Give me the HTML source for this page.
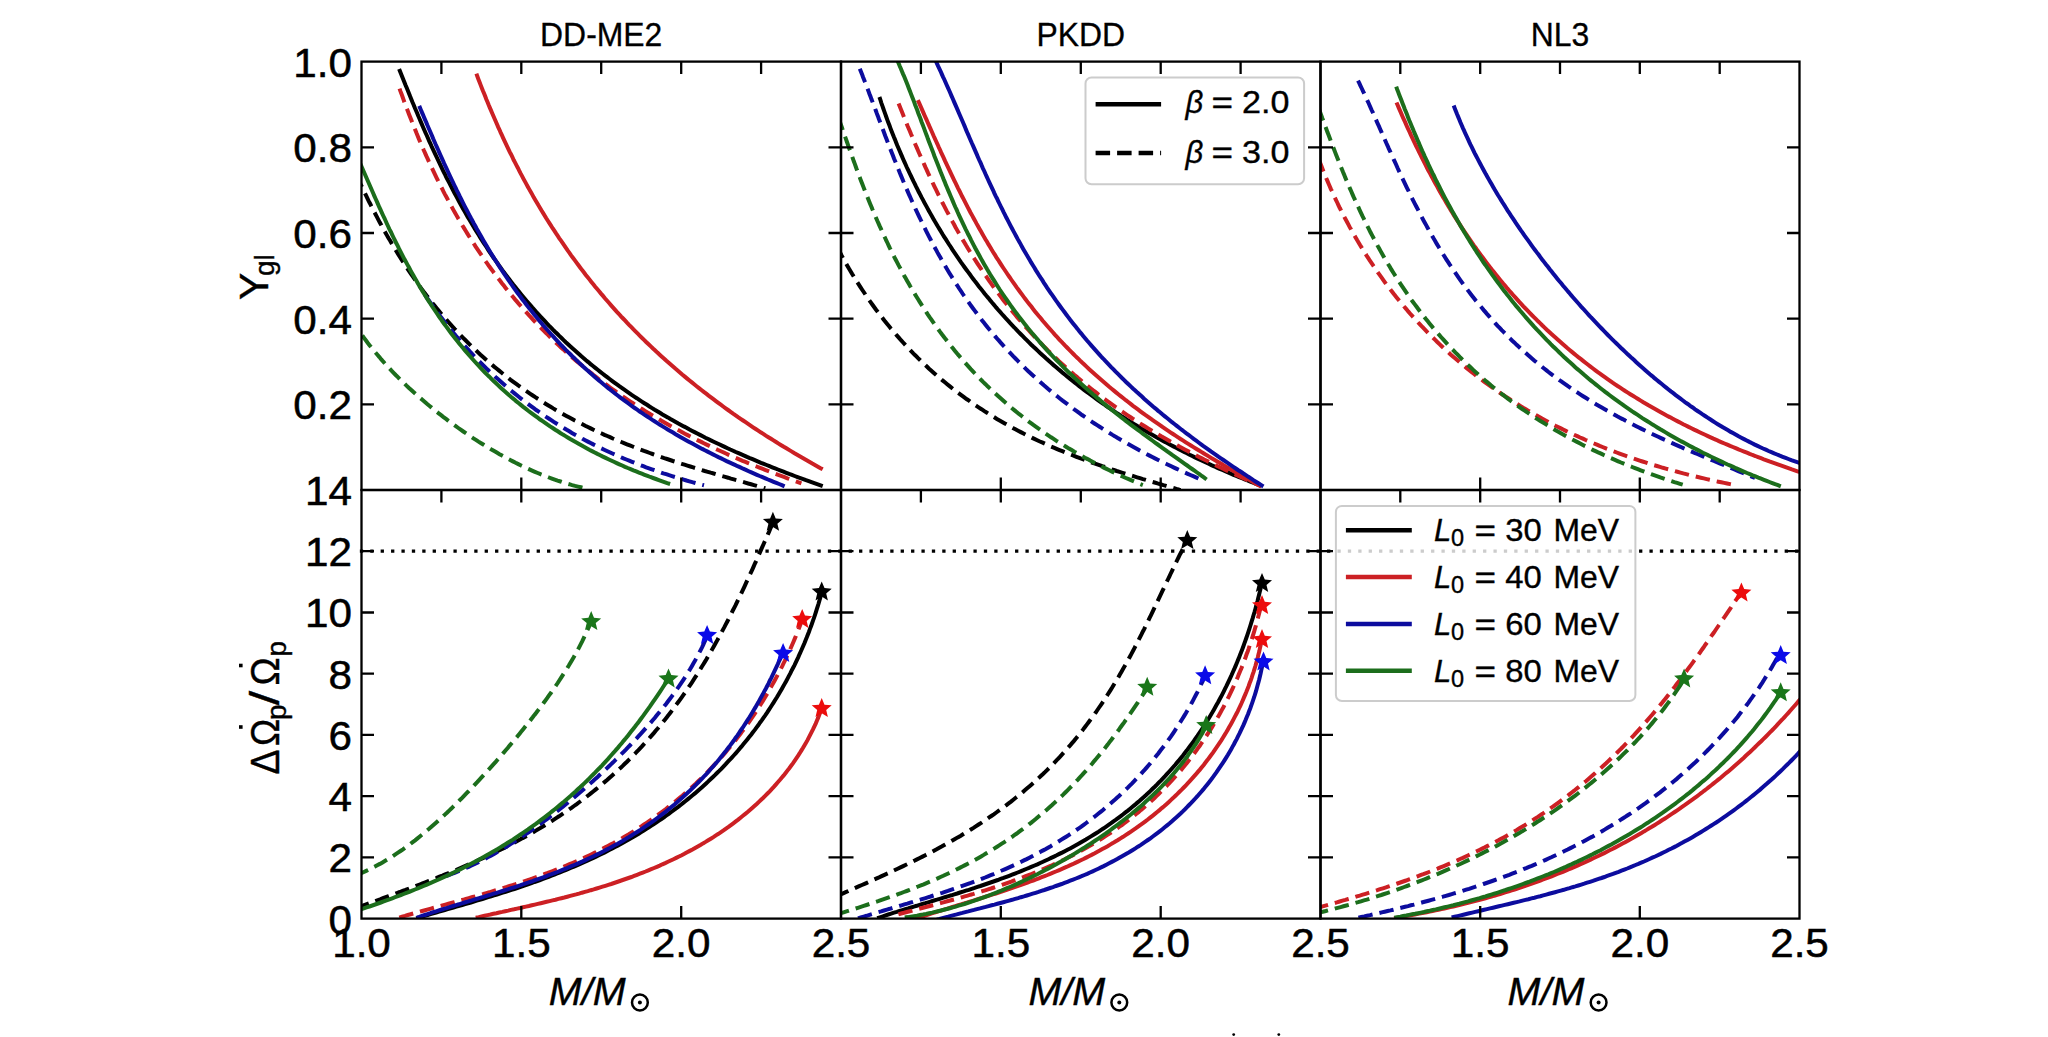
<!DOCTYPE html><html><head><meta charset="utf-8"><style>html,body{margin:0;padding:0;background:#fff;overflow:hidden}svg{display:block}text{font-family:"Liberation Sans",sans-serif;fill:#000}</style></head><body>
<svg width="2048" height="1037" viewBox="0 0 2048 1037">
<rect x="0" y="0" width="2048" height="1037" fill="#fff"/>
<clipPath id="ct0"><rect x="361.5" y="61.6" width="479.5" height="428.4"/></clipPath>
<clipPath id="cb0"><rect x="361.5" y="490.0" width="479.5" height="428.6"/></clipPath>
<clipPath id="ct1"><rect x="841.0" y="61.6" width="479.5" height="428.4"/></clipPath>
<clipPath id="cb1"><rect x="841.0" y="490.0" width="479.5" height="428.6"/></clipPath>
<clipPath id="ct2"><rect x="1320.5" y="61.6" width="479.0" height="428.4"/></clipPath>
<clipPath id="cb2"><rect x="1320.5" y="490.0" width="479.0" height="428.6"/></clipPath>
<path d="M399.1,68.9 L400.2,71.7 L401.3,74.4 L402.4,77.2 L403.5,79.9 L404.6,82.7 L405.7,85.5 L406.9,88.3 L408.0,91.0 L409.1,93.8 L410.2,96.6 L411.4,99.4 L412.5,102.2 L413.7,104.9 L414.8,107.7 L416.0,110.5 L417.2,113.3 L418.3,116.1 L419.5,118.8 L420.7,121.6 L421.9,124.4 L423.1,127.2 L424.3,130.0 L425.5,132.7 L426.8,135.5 L428.0,138.3 L429.2,141.1 L430.5,143.8 L431.7,146.6 L433.0,149.3 L434.3,152.1 L435.6,154.9 L436.9,157.6 L438.2,160.4 L439.5,163.1 L440.8,165.8 L442.1,168.6 L443.4,171.3 L444.8,174.0 L446.1,176.8 L447.5,179.5 L448.9,182.2 L450.3,184.9 L451.7,187.6 L453.1,190.3 L454.5,193.0 L455.9,195.6 L457.4,198.3 L458.8,201.0 L460.3,203.7 L461.7,206.3 L463.2,209.0 L464.7,211.6 L466.2,214.2 L467.7,216.9 L469.3,219.5 L470.8,222.1 L472.4,224.7 L473.9,227.3 L475.5,229.9 L477.1,232.5 L478.7,235.0 L480.3,237.6 L481.9,240.1 L483.5,242.7 L485.2,245.2 L486.9,247.7 L488.5,250.3 L490.2,252.8 L491.9,255.3 L493.6,257.8 L495.3,260.2 L497.1,262.7 L498.8,265.2 L500.6,267.6 L502.3,270.1 L504.1,272.5 L505.9,274.9 L507.7,277.3 L509.6,279.7 L511.4,282.1 L513.2,284.5 L515.1,286.8 L517.0,289.2 L518.9,291.5 L520.8,293.9 L522.7,296.2 L524.6,298.5 L526.5,300.8 L528.5,303.1 L530.5,305.3 L532.4,307.6 L534.4,309.9 L536.4,312.1 L538.5,314.3 L540.5,316.5 L542.5,318.7 L544.6,320.9 L546.6,323.1 L548.7,325.3 L550.8,327.4 L552.9,329.6 L555.0,331.7 L557.2,333.8 L559.3,335.9 L561.5,338.0 L563.6,340.1 L565.8,342.2 L568.0,344.2 L570.2,346.3 L572.4,348.3 L574.7,350.3 L576.9,352.3 L579.2,354.3 L581.4,356.3 L583.7,358.2 L586.0,360.2 L588.3,362.1 L590.6,364.1 L593.0,366.0 L595.3,367.9 L597.7,369.8 L600.0,371.6 L602.4,373.5 L604.8,375.4 L607.2,377.2 L609.6,379.0 L612.0,380.8 L614.4,382.6 L616.9,384.4 L619.3,386.2 L621.8,387.9 L624.3,389.7 L626.7,391.4 L629.2,393.1 L631.7,394.9 L634.3,396.6 L636.8,398.2 L639.3,399.9 L641.9,401.6 L644.4,403.2 L647.0,404.8 L649.5,406.5 L652.1,408.1 L654.7,409.7 L657.3,411.2 L659.9,412.8 L662.5,414.4 L665.2,415.9 L667.8,417.4 L670.4,419.0 L673.1,420.5 L675.7,422.0 L678.4,423.5 L681.1,424.9 L683.8,426.4 L686.5,427.8 L689.1,429.3 L691.8,430.7 L694.6,432.1 L697.3,433.5 L700.0,434.9 L702.7,436.3 L705.4,437.7 L708.2,439.0 L710.9,440.4 L713.7,441.7 L716.4,443.0 L719.2,444.3 L722.0,445.6 L724.7,446.9 L727.5,448.2 L730.3,449.5 L733.1,450.7 L735.8,452.0 L738.6,453.2 L741.4,454.4 L744.2,455.6 L747.0,456.9 L749.8,458.1 L752.6,459.2 L755.4,460.4 L758.2,461.6 L761.0,462.8 L763.8,463.9 L766.6,465.0 L769.5,466.2 L772.3,467.3 L775.1,468.4 L777.9,469.5 L780.7,470.6 L783.5,471.7 L786.3,472.8 L789.1,473.9 L791.9,474.9 L794.7,476.0 L797.6,477.1 L800.4,478.1 L803.2,479.1 L806.0,480.2 L808.8,481.2 L811.5,482.2 L814.3,483.2 L817.1,484.2 L819.9,485.2 L822.7,486.2" fill="none" stroke="#000000" stroke-width="4.0" clip-path="url(#ct0)"/>
<path d="M879.4,97.0 L880.4,99.9 L881.3,102.8 L882.3,105.6 L883.3,108.5 L884.3,111.3 L885.3,114.2 L886.3,117.0 L887.3,119.8 L888.4,122.7 L889.5,125.5 L890.5,128.3 L891.6,131.2 L892.7,134.0 L893.8,136.8 L895.0,139.6 L896.1,142.4 L897.2,145.2 L898.4,148.0 L899.6,150.8 L900.8,153.6 L902.0,156.4 L903.2,159.2 L904.4,161.9 L905.7,164.7 L906.9,167.5 L908.2,170.2 L909.5,173.0 L910.8,175.7 L912.1,178.4 L913.4,181.2 L914.8,183.9 L916.1,186.6 L917.5,189.3 L918.8,192.0 L920.2,194.7 L921.6,197.4 L923.1,200.1 L924.5,202.8 L925.9,205.4 L927.4,208.1 L928.8,210.7 L930.3,213.4 L931.8,216.0 L933.3,218.7 L934.8,221.3 L936.4,223.9 L937.9,226.5 L939.5,229.1 L941.1,231.7 L942.6,234.3 L944.2,236.8 L945.9,239.4 L947.5,242.0 L949.1,244.5 L950.8,247.0 L952.4,249.6 L954.1,252.1 L955.8,254.6 L957.5,257.1 L959.2,259.6 L960.9,262.1 L962.7,264.6 L964.4,267.0 L966.2,269.5 L968.0,271.9 L969.8,274.3 L971.6,276.8 L973.4,279.2 L975.2,281.6 L977.1,284.0 L978.9,286.4 L980.8,288.7 L982.7,291.1 L984.5,293.5 L986.4,295.8 L988.4,298.1 L990.3,300.5 L992.2,302.8 L994.2,305.1 L996.1,307.4 L998.1,309.7 L1000.1,311.9 L1002.1,314.2 L1004.1,316.4 L1006.1,318.7 L1008.2,320.9 L1010.2,323.1 L1012.3,325.3 L1014.4,327.5 L1016.4,329.7 L1018.5,331.9 L1020.6,334.0 L1022.8,336.2 L1024.9,338.3 L1027.0,340.4 L1029.2,342.6 L1031.3,344.7 L1033.5,346.8 L1035.7,348.8 L1037.9,350.9 L1040.1,353.0 L1042.3,355.0 L1044.6,357.0 L1046.8,359.1 L1049.0,361.1 L1051.3,363.1 L1053.6,365.1 L1055.9,367.0 L1058.2,369.0 L1060.5,370.9 L1062.8,372.9 L1065.1,374.8 L1067.4,376.7 L1069.8,378.6 L1072.1,380.5 L1074.5,382.4 L1076.9,384.3 L1079.2,386.1 L1081.6,388.0 L1084.0,389.8 L1086.4,391.6 L1088.9,393.4 L1091.3,395.2 L1093.7,397.0 L1096.2,398.8 L1098.6,400.6 L1101.1,402.3 L1103.6,404.0 L1106.1,405.8 L1108.6,407.5 L1111.1,409.2 L1113.6,410.9 L1116.1,412.6 L1118.6,414.2 L1121.1,415.9 L1123.7,417.5 L1126.2,419.1 L1128.8,420.8 L1131.4,422.4 L1133.9,424.0 L1136.5,425.5 L1139.1,427.1 L1141.7,428.7 L1144.3,430.2 L1146.9,431.7 L1149.5,433.3 L1152.2,434.8 L1154.8,436.3 L1157.4,437.8 L1160.1,439.2 L1162.7,440.7 L1165.4,442.1 L1168.0,443.6 L1170.7,445.0 L1173.4,446.4 L1176.1,447.8 L1178.8,449.2 L1181.4,450.6 L1184.1,452.0 L1186.9,453.3 L1189.6,454.7 L1192.3,456.0 L1195.0,457.4 L1197.7,458.7 L1200.5,460.0 L1203.2,461.3 L1205.9,462.5 L1208.7,463.8 L1211.4,465.1 L1214.2,466.3 L1216.9,467.6 L1219.7,468.8 L1222.5,470.0 L1225.2,471.2 L1228.0,472.4 L1230.8,473.6 L1233.5,474.8 L1236.3,475.9 L1239.1,477.1 L1241.9,478.2 L1244.7,479.3 L1247.5,480.5 L1250.3,481.6 L1253.1,482.7 L1255.9,483.8 L1258.7,484.8 L1261.5,485.9" fill="none" stroke="#000000" stroke-width="4.0" clip-path="url(#ct1)"/>
<path d="M416.2,918.3 L419.1,917.5 L421.9,916.6 L424.8,915.8 L427.6,915.0 L430.5,914.1 L433.3,913.3 L436.2,912.5 L439.1,911.7 L442.0,910.8 L444.8,910.0 L447.7,909.2 L450.6,908.3 L453.5,907.5 L456.4,906.7 L459.3,905.8 L462.2,905.0 L465.1,904.2 L468.0,903.3 L470.9,902.5 L473.8,901.6 L476.7,900.7 L479.5,899.9 L482.4,899.0 L485.3,898.1 L488.2,897.2 L491.1,896.3 L494.0,895.4 L496.9,894.5 L499.8,893.6 L502.7,892.7 L505.6,891.8 L508.5,890.9 L511.4,889.9 L514.3,889.0 L517.2,888.0 L520.0,887.0 L522.9,886.1 L525.8,885.1 L528.7,884.1 L531.5,883.1 L534.4,882.0 L537.3,881.0 L540.1,880.0 L543.0,878.9 L545.8,877.9 L548.7,876.8 L551.5,875.7 L554.3,874.6 L557.2,873.5 L560.0,872.4 L562.8,871.2 L565.6,870.1 L568.4,868.9 L571.2,867.7 L574.0,866.6 L576.8,865.4 L579.6,864.1 L582.3,862.9 L585.1,861.7 L587.9,860.4 L590.6,859.2 L593.4,857.9 L596.1,856.6 L598.8,855.3 L601.5,853.9 L604.3,852.6 L607.0,851.2 L609.7,849.8 L612.3,848.5 L615.0,847.0 L617.7,845.6 L620.3,844.2 L623.0,842.7 L625.6,841.3 L628.3,839.8 L630.9,838.3 L633.5,836.8 L636.1,835.2 L638.7,833.7 L641.2,832.1 L643.8,830.5 L646.4,828.9 L648.9,827.3 L651.4,825.7 L653.9,824.0 L656.5,822.4 L658.9,820.7 L661.4,819.0 L663.9,817.3 L666.4,815.5 L668.8,813.8 L671.2,812.0 L673.7,810.2 L676.1,808.4 L678.5,806.6 L680.9,804.7 L683.2,802.9 L685.6,801.0 L687.9,799.1 L690.2,797.2 L692.6,795.3 L694.9,793.4 L697.1,791.4 L699.4,789.4 L701.7,787.4 L703.9,785.4 L706.1,783.4 L708.3,781.4 L710.5,779.3 L712.7,777.2 L714.9,775.1 L717.0,773.0 L719.2,770.9 L721.3,768.8 L723.4,766.6 L725.5,764.4 L727.5,762.2 L729.6,760.0 L731.6,757.8 L733.7,755.5 L735.7,753.3 L737.7,751.0 L739.6,748.7 L741.6,746.4 L743.5,744.1 L745.4,741.8 L747.3,739.4 L749.2,737.1 L751.1,734.7 L752.9,732.3 L754.8,729.9 L756.6,727.4 L758.4,725.0 L760.1,722.5 L761.9,720.1 L763.6,717.6 L765.4,715.1 L767.1,712.6 L768.7,710.1 L770.4,707.5 L772.0,705.0 L773.7,702.4 L775.3,699.8 L776.9,697.3 L778.4,694.7 L780.0,692.0 L781.5,689.4 L783.0,686.8 L784.5,684.1 L786.0,681.5 L787.4,678.8 L788.8,676.1 L790.3,673.4 L791.6,670.7 L793.0,668.0 L794.4,665.3 L795.7,662.6 L797.0,659.8 L798.3,657.1 L799.5,654.3 L800.8,651.5 L802.0,648.8 L803.2,646.0 L804.4,643.2 L805.5,640.4 L806.7,637.6 L807.8,634.8 L808.9,632.0 L809.9,629.1 L811.0,626.3 L812.0,623.5 L813.0,620.6 L814.0,617.8 L815.0,614.9 L815.9,612.1 L816.8,609.2 L817.7,606.3 L818.6,603.5 L819.4,600.6 L820.3,597.7 L821.1,594.8 L821.8,592.0" fill="none" stroke="#000000" stroke-width="4.0" clip-path="url(#cb0)"/>
<path d="M877.2,918.2 L880.0,917.3 L882.8,916.4 L885.6,915.4 L888.3,914.5 L891.1,913.6 L894.0,912.7 L896.8,911.9 L899.6,911.0 L902.4,910.1 L905.3,909.2 L908.1,908.4 L911.0,907.5 L913.8,906.6 L916.7,905.8 L919.6,904.9 L922.5,904.0 L925.3,903.2 L928.2,902.3 L931.1,901.4 L934.0,900.5 L936.9,899.7 L939.8,898.8 L942.7,897.9 L945.6,897.0 L948.5,896.1 L951.4,895.3 L954.3,894.4 L957.2,893.5 L960.1,892.5 L963.0,891.6 L965.9,890.7 L968.8,889.8 L971.7,888.8 L974.6,887.9 L977.5,886.9 L980.4,886.0 L983.3,885.0 L986.2,884.0 L989.1,883.0 L992.0,882.0 L994.9,881.0 L997.8,880.0 L1000.6,878.9 L1003.5,877.9 L1006.4,876.8 L1009.2,875.8 L1012.1,874.7 L1014.9,873.6 L1017.7,872.5 L1020.6,871.3 L1023.4,870.2 L1026.2,869.0 L1029.0,867.9 L1031.8,866.7 L1034.6,865.5 L1037.4,864.3 L1040.2,863.0 L1043.0,861.8 L1045.7,860.5 L1048.5,859.2 L1051.2,857.9 L1054.0,856.6 L1056.7,855.3 L1059.4,853.9 L1062.1,852.6 L1064.8,851.2 L1067.5,849.8 L1070.1,848.4 L1072.8,846.9 L1075.4,845.5 L1078.1,844.0 L1080.7,842.5 L1083.3,841.0 L1085.9,839.5 L1088.5,837.9 L1091.0,836.4 L1093.6,834.8 L1096.1,833.2 L1098.7,831.6 L1101.2,829.9 L1103.7,828.3 L1106.2,826.6 L1108.6,824.9 L1111.1,823.2 L1113.5,821.4 L1116.0,819.7 L1118.4,817.9 L1120.8,816.1 L1123.2,814.3 L1125.5,812.4 L1127.9,810.6 L1130.2,808.7 L1132.5,806.8 L1134.8,804.9 L1137.1,802.9 L1139.4,801.0 L1141.6,799.0 L1143.9,797.0 L1146.1,795.0 L1148.3,792.9 L1150.5,790.9 L1152.6,788.8 L1154.8,786.7 L1156.9,784.6 L1159.0,782.4 L1161.1,780.3 L1163.2,778.1 L1165.3,775.9 L1167.3,773.7 L1169.3,771.5 L1171.3,769.2 L1173.3,767.0 L1175.3,764.7 L1177.2,762.4 L1179.2,760.1 L1181.1,757.7 L1183.0,755.4 L1184.8,753.0 L1186.7,750.6 L1188.5,748.2 L1190.3,745.8 L1192.1,743.3 L1193.9,740.9 L1195.6,738.4 L1197.4,735.9 L1199.1,733.4 L1200.8,730.9 L1202.5,728.3 L1204.1,725.8 L1205.7,723.2 L1207.4,720.6 L1209.0,718.0 L1210.5,715.4 L1212.1,712.8 L1213.6,710.2 L1215.1,707.5 L1216.6,704.8 L1218.1,702.2 L1219.5,699.5 L1221.0,696.8 L1222.4,694.1 L1223.8,691.3 L1225.1,688.6 L1226.5,685.9 L1227.8,683.1 L1229.1,680.3 L1230.4,677.6 L1231.7,674.8 L1232.9,672.0 L1234.2,669.2 L1235.4,666.4 L1236.6,663.6 L1237.7,660.7 L1238.9,657.9 L1240.0,655.1 L1241.1,652.2 L1242.2,649.4 L1243.3,646.5 L1244.3,643.7 L1245.3,640.8 L1246.3,638.0 L1247.3,635.1 L1248.3,632.2 L1249.2,629.4 L1250.1,626.5 L1251.0,623.6 L1251.9,620.7 L1252.8,617.9 L1253.6,615.0 L1254.5,612.1 L1255.3,609.3 L1256.1,606.4 L1256.8,603.5 L1257.6,600.7 L1258.3,597.8 L1259.0,595.0 L1259.7,592.1 L1260.4,589.3 L1261.0,586.4 L1261.7,583.6" fill="none" stroke="#000000" stroke-width="4.0" clip-path="url(#cb1)"/>
<path d="M355.9,173.8 L357.1,176.5 L358.3,179.2 L359.6,181.9 L360.8,184.6 L362.1,187.3 L363.4,190.0 L364.7,192.7 L366.0,195.4 L367.3,198.1 L368.6,200.8 L370.0,203.5 L371.3,206.2 L372.7,208.9 L374.1,211.6 L375.5,214.2 L376.9,216.9 L378.3,219.6 L379.7,222.3 L381.2,224.9 L382.6,227.6 L384.1,230.3 L385.6,232.9 L387.1,235.6 L388.6,238.2 L390.2,240.8 L391.7,243.5 L393.3,246.1 L394.8,248.7 L396.4,251.3 L398.0,253.9 L399.6,256.5 L401.3,259.1 L402.9,261.6 L404.6,264.2 L406.2,266.8 L407.9,269.3 L409.6,271.8 L411.3,274.4 L413.1,276.9 L414.8,279.4 L416.6,281.9 L418.3,284.3 L420.1,286.8 L421.9,289.3 L423.7,291.7 L425.6,294.1 L427.4,296.6 L429.3,299.0 L431.2,301.4 L433.0,303.8 L434.9,306.1 L436.9,308.5 L438.8,310.8 L440.8,313.2 L442.7,315.5 L444.7,317.8 L446.7,320.1 L448.7,322.3 L450.7,324.6 L452.7,326.8 L454.8,329.1 L456.9,331.3 L458.9,333.5 L461.0,335.7 L463.1,337.8 L465.3,340.0 L467.4,342.1 L469.6,344.3 L471.7,346.4 L473.9,348.5 L476.1,350.5 L478.3,352.6 L480.5,354.7 L482.8,356.7 L485.0,358.7 L487.3,360.7 L489.5,362.7 L491.8,364.6 L494.1,366.6 L496.5,368.5 L498.8,370.4 L501.1,372.3 L503.5,374.2 L505.9,376.1 L508.2,377.9 L510.6,379.8 L513.0,381.6 L515.5,383.4 L517.9,385.2 L520.3,386.9 L522.8,388.7 L525.3,390.4 L527.8,392.1 L530.3,393.8 L532.8,395.5 L535.3,397.2 L537.8,398.8 L540.4,400.4 L542.9,402.1 L545.5,403.7 L548.0,405.2 L550.6,406.8 L553.2,408.4 L555.8,409.9 L558.5,411.4 L561.1,412.9 L563.7,414.4 L566.4,415.9 L569.0,417.3 L571.7,418.7 L574.4,420.2 L577.1,421.6 L579.8,423.0 L582.5,424.3 L585.2,425.7 L587.9,427.0 L590.7,428.4 L593.4,429.7 L596.2,431.0 L598.9,432.3 L601.7,433.5 L604.5,434.8 L607.3,436.0 L610.0,437.2 L612.8,438.5 L615.6,439.6 L618.5,440.8 L621.3,442.0 L624.1,443.2 L626.9,444.3 L629.8,445.4 L632.6,446.5 L635.5,447.7 L638.3,448.7 L641.2,449.8 L644.0,450.9 L646.9,451.9 L649.8,453.0 L652.6,454.0 L655.5,455.0 L658.4,456.1 L661.3,457.1 L664.2,458.1 L667.1,459.0 L670.0,460.0 L672.9,461.0 L675.8,461.9 L678.7,462.9 L681.6,463.8 L684.5,464.7 L687.4,465.6 L690.3,466.5 L693.2,467.4 L696.1,468.3 L699.0,469.2 L701.9,470.1 L704.8,471.0 L707.8,471.8 L710.7,472.7 L713.6,473.5 L716.5,474.4 L719.4,475.2 L722.3,476.1 L725.2,476.9 L728.1,477.7 L730.9,478.6 L733.8,479.4 L736.7,480.2 L739.6,481.0 L742.5,481.8 L745.3,482.6 L748.2,483.5 L751.1,484.3 L753.9,485.1 L756.8,485.9 L759.6,486.7 L762.4,487.5 L765.3,488.3" fill="none" stroke="#000000" stroke-width="4.0" stroke-dasharray="14.5,7" clip-path="url(#ct0)"/>
<path d="M836.1,245.1 L837.5,247.7 L838.9,250.4 L840.3,253.0 L841.7,255.7 L843.2,258.3 L844.6,261.0 L846.1,263.6 L847.6,266.2 L849.1,268.8 L850.7,271.4 L852.2,274.0 L853.8,276.6 L855.4,279.2 L857.0,281.8 L858.7,284.4 L860.3,286.9 L862.0,289.5 L863.7,292.0 L865.4,294.5 L867.1,297.1 L868.8,299.6 L870.6,302.1 L872.3,304.5 L874.1,307.0 L875.9,309.5 L877.8,311.9 L879.6,314.4 L881.5,316.8 L883.4,319.2 L885.2,321.6 L887.2,324.0 L889.1,326.3 L891.0,328.7 L893.0,331.0 L895.0,333.3 L897.0,335.6 L899.0,337.9 L901.0,340.2 L903.1,342.5 L905.1,344.7 L907.2,347.0 L909.3,349.2 L911.4,351.4 L913.5,353.6 L915.7,355.7 L917.8,357.9 L920.0,360.0 L922.2,362.1 L924.4,364.2 L926.6,366.3 L928.8,368.4 L931.1,370.4 L933.3,372.4 L935.6,374.4 L937.9,376.4 L940.2,378.4 L942.5,380.4 L944.9,382.3 L947.2,384.2 L949.6,386.1 L951.9,388.0 L954.3,389.9 L956.7,391.7 L959.2,393.6 L961.6,395.4 L964.0,397.2 L966.5,399.0 L969.0,400.7 L971.4,402.5 L973.9,404.2 L976.4,405.9 L979.0,407.6 L981.5,409.2 L984.0,410.9 L986.6,412.5 L989.2,414.1 L991.7,415.7 L994.3,417.3 L996.9,418.9 L999.6,420.4 L1002.2,421.9 L1004.8,423.4 L1007.5,424.9 L1010.1,426.4 L1012.8,427.9 L1015.4,429.3 L1018.1,430.7 L1020.8,432.1 L1023.5,433.5 L1026.2,434.9 L1029.0,436.2 L1031.7,437.6 L1034.4,438.9 L1037.2,440.2 L1039.9,441.5 L1042.7,442.7 L1045.5,444.0 L1048.3,445.2 L1051.0,446.5 L1053.8,447.7 L1056.6,448.9 L1059.5,450.1 L1062.3,451.2 L1065.1,452.4 L1067.9,453.5 L1070.8,454.6 L1073.6,455.7 L1076.4,456.8 L1079.3,457.9 L1082.1,459.0 L1085.0,460.1 L1087.9,461.1 L1090.7,462.1 L1093.6,463.2 L1096.5,464.2 L1099.4,465.2 L1102.3,466.2 L1105.2,467.1 L1108.0,468.1 L1110.9,469.1 L1113.8,470.0 L1116.7,471.0 L1119.6,471.9 L1122.5,472.8 L1125.5,473.7 L1128.4,474.6 L1131.3,475.5 L1134.2,476.4 L1137.1,477.3 L1140.0,478.2 L1142.9,479.1 L1145.8,479.9 L1148.7,480.8 L1151.6,481.7 L1154.6,482.5 L1157.5,483.4 L1160.4,484.2 L1163.3,485.1 L1166.2,485.9 L1169.1,486.8 L1172.0,487.6 L1174.9,488.4 L1177.7,489.3 L1180.6,490.1" fill="none" stroke="#000000" stroke-width="4.0" stroke-dasharray="14.5,7" clip-path="url(#ct1)"/>
<path d="M355.2,908.6 L357.9,907.5 L360.7,906.5 L363.4,905.5 L366.2,904.4 L369.0,903.4 L371.8,902.4 L374.5,901.3 L377.3,900.3 L380.1,899.3 L382.9,898.2 L385.7,897.2 L388.5,896.2 L391.4,895.1 L394.2,894.1 L397.0,893.0 L399.8,892.0 L402.6,890.9 L405.5,889.9 L408.3,888.8 L411.1,887.7 L414.0,886.7 L416.8,885.6 L419.7,884.5 L422.5,883.4 L425.3,882.3 L428.2,881.2 L431.0,880.1 L433.9,879.0 L436.7,877.9 L439.5,876.7 L442.4,875.6 L445.2,874.4 L448.0,873.3 L450.9,872.1 L453.7,870.9 L456.5,869.8 L459.3,868.6 L462.1,867.4 L464.9,866.2 L467.8,864.9 L470.6,863.7 L473.4,862.5 L476.1,861.2 L478.9,859.9 L481.7,858.7 L484.5,857.4 L487.3,856.1 L490.0,854.8 L492.8,853.5 L495.5,852.1 L498.3,850.8 L501.0,849.4 L503.7,848.1 L506.5,846.7 L509.2,845.3 L511.9,843.9 L514.6,842.5 L517.3,841.0 L520.0,839.6 L522.6,838.1 L525.3,836.7 L528.0,835.2 L530.6,833.7 L533.2,832.2 L535.9,830.6 L538.5,829.1 L541.1,827.5 L543.7,826.0 L546.3,824.4 L548.8,822.8 L551.4,821.2 L553.9,819.6 L556.5,817.9 L559.0,816.3 L561.5,814.6 L564.0,812.9 L566.5,811.2 L569.0,809.5 L571.5,807.8 L574.0,806.0 L576.4,804.3 L578.8,802.5 L581.3,800.7 L583.7,798.9 L586.1,797.1 L588.5,795.2 L590.8,793.4 L593.2,791.5 L595.5,789.6 L597.9,787.7 L600.2,785.8 L602.5,783.9 L604.8,781.9 L607.1,780.0 L609.3,778.0 L611.6,776.0 L613.8,774.0 L616.1,772.0 L618.3,770.0 L620.5,767.9 L622.7,765.9 L624.8,763.8 L627.0,761.7 L629.1,759.6 L631.3,757.4 L633.4,755.3 L635.5,753.2 L637.6,751.0 L639.6,748.8 L641.7,746.6 L643.7,744.4 L645.8,742.2 L647.8,739.9 L649.8,737.7 L651.8,735.4 L653.8,733.1 L655.7,730.8 L657.7,728.5 L659.6,726.2 L661.5,723.9 L663.4,721.5 L665.3,719.2 L667.2,716.8 L669.0,714.4 L670.9,712.0 L672.7,709.6 L674.5,707.2 L676.3,704.7 L678.1,702.3 L679.9,699.8 L681.7,697.3 L683.4,694.9 L685.2,692.4 L686.9,689.9 L688.6,687.3 L690.3,684.8 L692.0,682.3 L693.7,679.7 L695.3,677.2 L697.0,674.6 L698.6,672.0 L700.2,669.4 L701.8,666.8 L703.4,664.2 L705.0,661.6 L706.6,659.0 L708.1,656.3 L709.7,653.7 L711.2,651.1 L712.7,648.4 L714.2,645.7 L715.7,643.1 L717.2,640.4 L718.7,637.7 L720.1,635.0 L721.6,632.3 L723.0,629.6 L724.5,626.9 L725.9,624.2 L727.3,621.5 L728.7,618.7 L730.1,616.0 L731.5,613.3 L732.8,610.5 L734.2,607.8 L735.6,605.1 L736.9,602.3 L738.2,599.6 L739.5,596.8 L740.9,594.1 L742.2,591.3 L743.5,588.6 L744.8,585.8 L746.0,583.1 L747.3,580.3 L748.6,577.6 L749.8,574.8 L751.1,572.1 L752.4,569.3 L753.6,566.6 L754.8,563.8 L756.1,561.1 L757.3,558.3 L758.5,555.6 L759.7,552.9 L760.9,550.1 L762.1,547.4 L763.3,544.7 L764.5,542.0 L765.7,539.3 L766.9,536.6 L768.1,533.9 L769.3,531.2 L770.4,528.5 L771.6,525.9 L772.8,523.2" fill="none" stroke="#000000" stroke-width="4.0" stroke-dasharray="14.5,7" clip-path="url(#cb0)"/>
<path d="M835.2,896.9 L837.8,895.7 L840.4,894.5 L843.1,893.3 L845.7,892.2 L848.4,891.0 L851.1,889.8 L853.8,888.6 L856.5,887.4 L859.2,886.2 L861.9,885.0 L864.6,883.8 L867.4,882.6 L870.1,881.4 L872.9,880.1 L875.6,878.9 L878.4,877.7 L881.1,876.4 L883.9,875.1 L886.6,873.9 L889.4,872.6 L892.2,871.3 L894.9,870.0 L897.7,868.7 L900.5,867.4 L903.2,866.1 L906.0,864.8 L908.7,863.5 L911.5,862.1 L914.3,860.7 L917.0,859.4 L919.8,858.0 L922.5,856.6 L925.3,855.2 L928.0,853.8 L930.7,852.4 L933.5,850.9 L936.2,849.5 L938.9,848.0 L941.6,846.6 L944.3,845.1 L947.0,843.6 L949.7,842.1 L952.4,840.5 L955.0,839.0 L957.7,837.4 L960.4,835.9 L963.0,834.3 L965.6,832.7 L968.3,831.1 L970.9,829.5 L973.5,827.9 L976.1,826.2 L978.6,824.5 L981.2,822.9 L983.7,821.2 L986.3,819.5 L988.8,817.7 L991.3,816.0 L993.8,814.3 L996.3,812.5 L998.8,810.7 L1001.3,808.9 L1003.7,807.1 L1006.1,805.3 L1008.6,803.4 L1011.0,801.6 L1013.3,799.7 L1015.7,797.8 L1018.1,795.9 L1020.4,794.0 L1022.8,792.1 L1025.1,790.1 L1027.4,788.1 L1029.6,786.2 L1031.9,784.2 L1034.2,782.2 L1036.4,780.1 L1038.6,778.1 L1040.8,776.0 L1043.0,774.0 L1045.2,771.9 L1047.3,769.8 L1049.4,767.7 L1051.6,765.5 L1053.7,763.4 L1055.8,761.2 L1057.8,759.0 L1059.9,756.8 L1061.9,754.6 L1063.9,752.4 L1065.9,750.2 L1067.9,747.9 L1069.9,745.7 L1071.8,743.4 L1073.8,741.1 L1075.7,738.8 L1077.6,736.4 L1079.5,734.1 L1081.3,731.8 L1083.2,729.4 L1085.0,727.0 L1086.8,724.6 L1088.6,722.2 L1090.4,719.8 L1092.2,717.4 L1093.9,714.9 L1095.7,712.5 L1097.4,710.0 L1099.1,707.5 L1100.8,705.1 L1102.5,702.6 L1104.2,700.0 L1105.8,697.5 L1107.4,695.0 L1109.1,692.4 L1110.7,689.9 L1112.3,687.3 L1113.8,684.7 L1115.4,682.2 L1117.0,679.6 L1118.5,677.0 L1120.0,674.3 L1121.5,671.7 L1123.0,669.1 L1124.5,666.4 L1126.0,663.8 L1127.5,661.1 L1128.9,658.5 L1130.4,655.8 L1131.8,653.1 L1133.2,650.5 L1134.6,647.8 L1136.0,645.1 L1137.4,642.4 L1138.8,639.7 L1140.2,636.9 L1141.6,634.2 L1142.9,631.5 L1144.3,628.8 L1145.6,626.1 L1147.0,623.3 L1148.3,620.6 L1149.6,617.9 L1151.0,615.1 L1152.3,612.4 L1153.6,609.6 L1154.9,606.9 L1156.2,604.1 L1157.5,601.4 L1158.8,598.7 L1160.1,595.9 L1161.4,593.2 L1162.7,590.4 L1164.0,587.7 L1165.3,585.0 L1166.6,582.2 L1167.9,579.5 L1169.2,576.8 L1170.5,574.0 L1171.8,571.3 L1173.1,568.6 L1174.4,565.9 L1175.7,563.2 L1177.0,560.5 L1178.3,557.8 L1179.6,555.1 L1181.0,552.5 L1182.3,549.8 L1183.7,547.1 L1185.0,544.5 L1186.4,541.8 L1187.7,539.2" fill="none" stroke="#000000" stroke-width="4.0" stroke-dasharray="14.5,7" clip-path="url(#cb1)"/>
<path d="M476.4,73.7 L477.4,76.6 L478.5,79.4 L479.6,82.2 L480.7,85.1 L481.8,87.9 L482.9,90.7 L484.1,93.5 L485.2,96.3 L486.3,99.2 L487.5,102.0 L488.6,104.8 L489.8,107.6 L491.0,110.4 L492.2,113.2 L493.4,116.0 L494.6,118.7 L495.8,121.5 L497.0,124.3 L498.2,127.1 L499.5,129.8 L500.7,132.6 L502.0,135.4 L503.2,138.1 L504.5,140.9 L505.8,143.6 L507.1,146.3 L508.4,149.1 L509.7,151.8 L511.1,154.5 L512.4,157.2 L513.7,160.0 L515.1,162.7 L516.5,165.4 L517.9,168.0 L519.2,170.7 L520.6,173.4 L522.1,176.1 L523.5,178.8 L524.9,181.4 L526.4,184.1 L527.8,186.7 L529.3,189.4 L530.8,192.0 L532.3,194.6 L533.7,197.3 L535.3,199.9 L536.8,202.5 L538.3,205.1 L539.9,207.7 L541.4,210.3 L543.0,212.8 L544.6,215.4 L546.1,218.0 L547.7,220.5 L549.4,223.1 L551.0,225.6 L552.6,228.2 L554.3,230.7 L555.9,233.2 L557.6,235.7 L559.3,238.3 L561.0,240.7 L562.7,243.2 L564.4,245.7 L566.1,248.2 L567.8,250.7 L569.6,253.1 L571.3,255.6 L573.1,258.0 L574.9,260.4 L576.7,262.9 L578.5,265.3 L580.3,267.7 L582.1,270.1 L584.0,272.5 L585.8,274.9 L587.7,277.2 L589.6,279.6 L591.4,282.0 L593.3,284.3 L595.2,286.7 L597.2,289.0 L599.1,291.3 L601.0,293.6 L603.0,295.9 L604.9,298.2 L606.9,300.5 L608.9,302.8 L610.9,305.1 L612.9,307.3 L614.9,309.6 L616.9,311.8 L619.0,314.0 L621.0,316.3 L623.1,318.5 L625.2,320.7 L627.2,322.9 L629.3,325.1 L631.4,327.2 L633.5,329.4 L635.7,331.6 L637.8,333.7 L639.9,335.8 L642.1,338.0 L644.3,340.1 L646.4,342.2 L648.6,344.3 L650.8,346.4 L653.0,348.5 L655.2,350.5 L657.4,352.6 L659.7,354.7 L661.9,356.7 L664.2,358.7 L666.4,360.8 L668.7,362.8 L671.0,364.8 L673.3,366.8 L675.6,368.8 L677.9,370.7 L680.2,372.7 L682.5,374.7 L684.8,376.6 L687.2,378.6 L689.5,380.5 L691.9,382.4 L694.2,384.3 L696.6,386.2 L699.0,388.1 L701.4,390.0 L703.8,391.9 L706.2,393.7 L708.6,395.6 L711.0,397.4 L713.4,399.2 L715.9,401.1 L718.3,402.9 L720.8,404.7 L723.2,406.5 L725.7,408.3 L728.1,410.0 L730.6,411.8 L733.1,413.6 L735.6,415.3 L738.1,417.1 L740.6,418.8 L743.1,420.5 L745.6,422.2 L748.1,423.9 L750.6,425.6 L753.1,427.3 L755.7,429.0 L758.2,430.6 L760.7,432.3 L763.3,433.9 L765.8,435.6 L768.4,437.2 L771.0,438.8 L773.5,440.4 L776.1,442.0 L778.6,443.6 L781.2,445.2 L783.8,446.8 L786.4,448.3 L789.0,449.9 L791.5,451.4 L794.1,453.0 L796.7,454.5 L799.3,456.0 L801.9,457.5 L804.5,459.0 L807.1,460.5 L809.7,462.0 L812.3,463.5 L814.9,464.9 L817.5,466.4 L820.1,467.9 L822.7,469.3" fill="none" stroke="#cc2024" stroke-width="4.0" clip-path="url(#ct0)"/>
<path d="M917.8,100.1 L919.1,102.9 L920.3,105.6 L921.5,108.4 L922.7,111.1 L923.9,113.9 L925.1,116.7 L926.4,119.4 L927.6,122.2 L928.8,124.9 L930.0,127.7 L931.3,130.5 L932.5,133.2 L933.7,136.0 L935.0,138.8 L936.2,141.5 L937.5,144.3 L938.7,147.1 L940.0,149.8 L941.2,152.6 L942.5,155.4 L943.8,158.1 L945.0,160.9 L946.3,163.6 L947.6,166.4 L948.9,169.1 L950.2,171.9 L951.5,174.6 L952.8,177.4 L954.1,180.1 L955.5,182.9 L956.8,185.6 L958.1,188.3 L959.5,191.0 L960.9,193.8 L962.2,196.5 L963.6,199.2 L965.0,201.9 L966.4,204.6 L967.8,207.3 L969.2,210.0 L970.6,212.7 L972.1,215.4 L973.5,218.0 L975.0,220.7 L976.4,223.4 L977.9,226.0 L979.4,228.7 L980.9,231.3 L982.4,233.9 L983.9,236.6 L985.4,239.2 L987.0,241.8 L988.5,244.4 L990.1,247.0 L991.6,249.6 L993.2,252.2 L994.8,254.7 L996.4,257.3 L998.1,259.8 L999.7,262.4 L1001.3,264.9 L1003.0,267.5 L1004.7,270.0 L1006.4,272.5 L1008.0,275.0 L1009.8,277.5 L1011.5,280.0 L1013.2,282.4 L1015.0,284.9 L1016.7,287.4 L1018.5,289.8 L1020.3,292.2 L1022.1,294.7 L1023.9,297.1 L1025.7,299.5 L1027.5,301.9 L1029.4,304.3 L1031.3,306.6 L1033.1,309.0 L1035.0,311.4 L1036.9,313.7 L1038.8,316.0 L1040.8,318.3 L1042.7,320.7 L1044.7,323.0 L1046.6,325.2 L1048.6,327.5 L1050.6,329.8 L1052.6,332.0 L1054.6,334.3 L1056.7,336.5 L1058.7,338.8 L1060.8,341.0 L1062.8,343.2 L1064.9,345.4 L1067.0,347.5 L1069.1,349.7 L1071.3,351.9 L1073.4,354.0 L1075.5,356.1 L1077.7,358.2 L1079.9,360.4 L1082.1,362.5 L1084.3,364.5 L1086.5,366.6 L1088.7,368.7 L1090.9,370.7 L1093.2,372.8 L1095.4,374.8 L1097.7,376.8 L1100.0,378.8 L1102.3,380.8 L1104.6,382.8 L1106.9,384.8 L1109.2,386.8 L1111.6,388.7 L1113.9,390.6 L1116.3,392.6 L1118.6,394.5 L1121.0,396.4 L1123.4,398.3 L1125.8,400.2 L1128.2,402.0 L1130.6,403.9 L1133.0,405.8 L1135.5,407.6 L1137.9,409.4 L1140.4,411.3 L1142.8,413.1 L1145.3,414.9 L1147.8,416.6 L1150.3,418.4 L1152.7,420.2 L1155.2,421.9 L1157.8,423.7 L1160.3,425.4 L1162.8,427.2 L1165.3,428.9 L1167.9,430.6 L1170.4,432.3 L1173.0,434.0 L1175.5,435.6 L1178.1,437.3 L1180.6,439.0 L1183.2,440.6 L1185.8,442.3 L1188.3,443.9 L1190.9,445.5 L1193.5,447.1 L1196.1,448.7 L1198.7,450.3 L1201.3,451.9 L1203.9,453.5 L1206.5,455.1 L1209.1,456.6 L1211.7,458.2 L1214.3,459.7 L1216.9,461.3 L1219.5,462.8 L1222.1,464.3 L1224.8,465.9 L1227.4,467.4 L1230.0,468.9 L1232.6,470.4 L1235.2,471.9 L1237.8,473.4 L1240.4,474.8 L1243.0,476.3 L1245.6,477.8 L1248.2,479.2 L1250.8,480.7 L1253.4,482.2 L1256.0,483.6 L1258.5,485.0 L1261.1,486.5" fill="none" stroke="#cc2024" stroke-width="4.0" clip-path="url(#ct1)"/>
<path d="M1396.5,102.4 L1397.6,105.1 L1398.8,107.9 L1400.0,110.6 L1401.2,113.4 L1402.4,116.2 L1403.6,118.9 L1404.9,121.7 L1406.1,124.4 L1407.3,127.2 L1408.6,129.9 L1409.9,132.6 L1411.1,135.4 L1412.4,138.1 L1413.7,140.9 L1415.0,143.6 L1416.3,146.3 L1417.6,149.0 L1419.0,151.8 L1420.3,154.5 L1421.6,157.2 L1423.0,159.9 L1424.4,162.6 L1425.8,165.3 L1427.1,168.0 L1428.5,170.7 L1430.0,173.3 L1431.4,176.0 L1432.8,178.7 L1434.2,181.3 L1435.7,184.0 L1437.2,186.6 L1438.6,189.3 L1440.1,191.9 L1441.6,194.6 L1443.1,197.2 L1444.7,199.8 L1446.2,202.4 L1447.7,205.0 L1449.3,207.6 L1450.8,210.2 L1452.4,212.8 L1454.0,215.4 L1455.6,217.9 L1457.2,220.5 L1458.9,223.0 L1460.5,225.6 L1462.1,228.1 L1463.8,230.6 L1465.5,233.1 L1467.2,235.6 L1468.9,238.1 L1470.6,240.6 L1472.3,243.1 L1474.0,245.6 L1475.8,248.0 L1477.5,250.5 L1479.3,252.9 L1481.1,255.4 L1482.9,257.8 L1484.7,260.2 L1486.5,262.6 L1488.3,265.0 L1490.2,267.4 L1492.0,269.8 L1493.9,272.1 L1495.8,274.5 L1497.7,276.8 L1499.6,279.2 L1501.5,281.5 L1503.4,283.8 L1505.4,286.1 L1507.3,288.4 L1509.3,290.7 L1511.3,292.9 L1513.3,295.2 L1515.3,297.4 L1517.3,299.6 L1519.3,301.9 L1521.4,304.1 L1523.4,306.3 L1525.5,308.5 L1527.6,310.6 L1529.7,312.8 L1531.8,315.0 L1533.9,317.1 L1536.0,319.2 L1538.1,321.3 L1540.3,323.4 L1542.4,325.5 L1544.6,327.6 L1546.8,329.7 L1549.0,331.7 L1551.2,333.8 L1553.4,335.8 L1555.7,337.8 L1557.9,339.8 L1560.2,341.8 L1562.4,343.8 L1564.7,345.8 L1567.0,347.8 L1569.3,349.7 L1571.6,351.6 L1574.0,353.6 L1576.3,355.5 L1578.6,357.4 L1581.0,359.2 L1583.4,361.1 L1585.8,363.0 L1588.1,364.8 L1590.5,366.6 L1593.0,368.5 L1595.4,370.3 L1597.8,372.1 L1600.3,373.8 L1602.7,375.6 L1605.2,377.4 L1607.6,379.1 L1610.1,380.8 L1612.6,382.6 L1615.1,384.3 L1617.6,386.0 L1620.2,387.6 L1622.7,389.3 L1625.2,391.0 L1627.8,392.6 L1630.3,394.2 L1632.9,395.8 L1635.5,397.4 L1638.1,399.0 L1640.7,400.6 L1643.3,402.2 L1645.9,403.7 L1648.5,405.3 L1651.1,406.8 L1653.8,408.3 L1656.4,409.8 L1659.0,411.3 L1661.7,412.8 L1664.4,414.3 L1667.0,415.7 L1669.7,417.1 L1672.4,418.6 L1675.1,420.0 L1677.8,421.4 L1680.5,422.8 L1683.2,424.2 L1685.9,425.5 L1688.6,426.9 L1691.4,428.2 L1694.1,429.6 L1696.9,430.9 L1699.6,432.2 L1702.3,433.5 L1705.1,434.8 L1707.9,436.1 L1710.6,437.3 L1713.4,438.6 L1716.2,439.8 L1718.9,441.1 L1721.7,442.3 L1724.5,443.5 L1727.3,444.7 L1730.1,445.9 L1732.9,447.0 L1735.7,448.2 L1738.5,449.4 L1741.3,450.5 L1744.1,451.6 L1746.9,452.7 L1749.7,453.9 L1752.5,455.0 L1755.3,456.0 L1758.1,457.1 L1761.0,458.2 L1763.8,459.3 L1766.6,460.3 L1769.4,461.4 L1772.2,462.4 L1775.0,463.4 L1777.8,464.4 L1780.7,465.4 L1783.5,466.4 L1786.3,467.4 L1789.1,468.4 L1791.9,469.4 L1794.7,470.3 L1797.5,471.3 L1800.3,472.2 L1803.1,473.1 L1805.9,474.1" fill="none" stroke="#cc2024" stroke-width="4.0" clip-path="url(#ct2)"/>
<path d="M475.7,917.7 L478.7,917.1 L481.6,916.4 L484.6,915.7 L487.5,915.1 L490.5,914.5 L493.4,913.8 L496.4,913.2 L499.3,912.5 L502.3,911.9 L505.2,911.2 L508.2,910.6 L511.1,909.9 L514.1,909.3 L517.1,908.6 L520.0,908.0 L523.0,907.3 L525.9,906.6 L528.9,906.0 L531.8,905.3 L534.8,904.6 L537.8,903.9 L540.7,903.2 L543.7,902.5 L546.6,901.8 L549.6,901.1 L552.5,900.4 L555.5,899.7 L558.4,898.9 L561.4,898.2 L564.3,897.5 L567.3,896.7 L570.2,895.9 L573.2,895.1 L576.1,894.4 L579.0,893.6 L582.0,892.7 L584.9,891.9 L587.8,891.1 L590.8,890.2 L593.7,889.4 L596.6,888.5 L599.5,887.6 L602.5,886.7 L605.4,885.8 L608.3,884.9 L611.2,884.0 L614.1,883.0 L617.0,882.0 L619.9,881.0 L622.7,880.0 L625.6,879.0 L628.5,878.0 L631.4,877.0 L634.2,875.9 L637.1,874.8 L639.9,873.7 L642.8,872.6 L645.6,871.5 L648.4,870.3 L651.2,869.2 L654.1,868.0 L656.9,866.8 L659.7,865.6 L662.4,864.3 L665.2,863.1 L668.0,861.8 L670.7,860.5 L673.5,859.2 L676.2,857.9 L679.0,856.5 L681.7,855.2 L684.4,853.8 L687.1,852.3 L689.8,850.9 L692.5,849.5 L695.1,848.0 L697.8,846.5 L700.4,845.0 L703.0,843.4 L705.6,841.9 L708.2,840.3 L710.8,838.7 L713.4,837.1 L715.9,835.4 L718.5,833.8 L721.0,832.1 L723.5,830.4 L726.0,828.6 L728.5,826.9 L730.9,825.1 L733.3,823.3 L735.8,821.4 L738.2,819.6 L740.5,817.7 L742.9,815.8 L745.3,813.9 L747.6,812.0 L749.9,810.0 L752.2,808.0 L754.4,806.0 L756.7,804.0 L758.9,801.9 L761.1,799.8 L763.3,797.7 L765.4,795.6 L767.5,793.5 L769.7,791.3 L771.7,789.1 L773.8,786.9 L775.8,784.6 L777.8,782.3 L779.8,780.0 L781.7,777.7 L783.7,775.4 L785.6,773.0 L787.4,770.6 L789.3,768.2 L791.1,765.8 L792.9,763.3 L794.6,760.8 L796.3,758.3 L798.0,755.8 L799.7,753.2 L801.3,750.6 L802.9,748.0 L804.4,745.4 L806.0,742.8 L807.5,740.1 L808.9,737.4 L810.3,734.7 L811.7,731.9 L813.1,729.2 L814.4,726.4 L815.7,723.6 L816.9,720.7 L818.1,717.9 L819.2,715.0 L820.4,712.1 L821.4,709.2" fill="none" stroke="#cc2024" stroke-width="4.0" clip-path="url(#cb0)"/>
<path d="M915.4,918.8 L918.3,917.8 L921.1,916.9 L923.9,916.0 L926.7,915.1 L929.6,914.1 L932.4,913.2 L935.3,912.3 L938.1,911.4 L941.0,910.6 L943.8,909.7 L946.7,908.8 L949.6,907.9 L952.5,907.0 L955.3,906.1 L958.2,905.2 L961.1,904.3 L964.0,903.5 L966.9,902.6 L969.8,901.7 L972.7,900.8 L975.6,899.9 L978.5,899.0 L981.3,898.1 L984.2,897.2 L987.1,896.2 L990.0,895.3 L992.9,894.4 L995.8,893.5 L998.7,892.5 L1001.6,891.6 L1004.5,890.6 L1007.4,889.6 L1010.3,888.7 L1013.1,887.7 L1016.0,886.7 L1018.9,885.7 L1021.8,884.7 L1024.6,883.6 L1027.5,882.6 L1030.4,881.5 L1033.2,880.5 L1036.1,879.4 L1038.9,878.3 L1041.7,877.2 L1044.6,876.1 L1047.4,875.0 L1050.2,873.8 L1053.0,872.7 L1055.9,871.5 L1058.7,870.3 L1061.5,869.1 L1064.2,867.9 L1067.0,866.7 L1069.8,865.4 L1072.6,864.2 L1075.3,862.9 L1078.0,861.6 L1080.8,860.3 L1083.5,859.0 L1086.2,857.6 L1088.9,856.2 L1091.6,854.9 L1094.3,853.5 L1097.0,852.0 L1099.7,850.6 L1102.3,849.1 L1104.9,847.7 L1107.6,846.2 L1110.2,844.6 L1112.8,843.1 L1115.4,841.5 L1118.0,840.0 L1120.5,838.4 L1123.1,836.8 L1125.6,835.1 L1128.1,833.5 L1130.6,831.8 L1133.1,830.1 L1135.6,828.4 L1138.1,826.6 L1140.5,824.9 L1143.0,823.1 L1145.4,821.3 L1147.8,819.5 L1150.2,817.6 L1152.5,815.8 L1154.9,813.9 L1157.2,812.0 L1159.5,810.1 L1161.8,808.1 L1164.1,806.2 L1166.4,804.2 L1168.6,802.2 L1170.8,800.1 L1173.0,798.1 L1175.2,796.0 L1177.4,793.9 L1179.5,791.8 L1181.7,789.7 L1183.8,787.5 L1185.9,785.3 L1187.9,783.2 L1190.0,780.9 L1192.0,778.7 L1194.0,776.4 L1196.0,774.2 L1197.9,771.9 L1199.9,769.6 L1201.8,767.2 L1203.7,764.9 L1205.5,762.5 L1207.4,760.1 L1209.2,757.7 L1211.0,755.3 L1212.8,752.8 L1214.5,750.3 L1216.2,747.9 L1217.9,745.4 L1219.6,742.8 L1221.3,740.3 L1222.9,737.7 L1224.5,735.2 L1226.1,732.6 L1227.6,730.0 L1229.1,727.3 L1230.6,724.7 L1232.1,722.0 L1233.5,719.4 L1234.9,716.7 L1236.3,714.0 L1237.7,711.3 L1239.0,708.5 L1240.3,705.8 L1241.6,703.0 L1242.8,700.2 L1244.0,697.4 L1245.2,694.6 L1246.4,691.8 L1247.5,689.0 L1248.6,686.2 L1249.6,683.3 L1250.7,680.5 L1251.7,677.6 L1252.6,674.7 L1253.6,671.8 L1254.5,668.9 L1255.4,666.0 L1256.2,663.1 L1257.0,660.2 L1257.8,657.2 L1258.5,654.3 L1259.3,651.3 L1259.9,648.4 L1260.6,645.4 L1261.2,642.5 L1261.8,639.5" fill="none" stroke="#cc2024" stroke-width="4.0" clip-path="url(#cb1)"/>
<path d="M1394.0,918.1 L1397.0,917.6 L1400.0,917.1 L1402.9,916.6 L1405.9,916.1 L1408.9,915.5 L1411.8,915.0 L1414.8,914.5 L1417.8,913.9 L1420.7,913.4 L1423.7,912.8 L1426.7,912.2 L1429.6,911.6 L1432.6,911.0 L1435.6,910.4 L1438.5,909.8 L1441.5,909.1 L1444.4,908.5 L1447.4,907.8 L1450.3,907.1 L1453.3,906.5 L1456.2,905.8 L1459.2,905.1 L1462.1,904.3 L1465.0,903.6 L1468.0,902.9 L1470.9,902.1 L1473.8,901.4 L1476.8,900.6 L1479.7,899.8 L1482.6,899.0 L1485.5,898.2 L1488.5,897.4 L1491.4,896.6 L1494.3,895.7 L1497.2,894.9 L1500.1,894.0 L1503.0,893.1 L1505.9,892.2 L1508.8,891.3 L1511.7,890.4 L1514.5,889.5 L1517.4,888.5 L1520.3,887.6 L1523.2,886.6 L1526.0,885.6 L1528.9,884.6 L1531.8,883.6 L1534.6,882.6 L1537.5,881.6 L1540.3,880.6 L1543.1,879.5 L1546.0,878.4 L1548.8,877.4 L1551.6,876.3 L1554.4,875.2 L1557.2,874.0 L1560.1,872.9 L1562.9,871.8 L1565.7,870.6 L1568.4,869.4 L1571.2,868.3 L1574.0,867.1 L1576.8,865.9 L1579.5,864.6 L1582.3,863.4 L1585.1,862.2 L1587.8,860.9 L1590.6,859.6 L1593.3,858.3 L1596.0,857.0 L1598.8,855.7 L1601.5,854.4 L1604.2,853.1 L1606.9,851.7 L1609.6,850.3 L1612.3,849.0 L1615.0,847.6 L1617.6,846.2 L1620.3,844.8 L1623.0,843.3 L1625.6,841.9 L1628.3,840.4 L1630.9,839.0 L1633.6,837.5 L1636.2,836.0 L1638.8,834.5 L1641.4,833.0 L1644.0,831.4 L1646.6,829.9 L1649.2,828.3 L1651.8,826.8 L1654.4,825.2 L1656.9,823.6 L1659.5,822.0 L1662.0,820.3 L1664.6,818.7 L1667.1,817.1 L1669.6,815.4 L1672.2,813.7 L1674.7,812.0 L1677.2,810.3 L1679.7,808.6 L1682.1,806.9 L1684.6,805.2 L1687.1,803.4 L1689.5,801.7 L1692.0,799.9 L1694.4,798.1 L1696.9,796.3 L1699.3,794.5 L1701.7,792.7 L1704.1,790.8 L1706.5,789.0 L1708.9,787.1 L1711.3,785.3 L1713.6,783.4 L1716.0,781.5 L1718.3,779.6 L1720.7,777.7 L1723.0,775.7 L1725.3,773.8 L1727.7,771.9 L1730.0,769.9 L1732.3,767.9 L1734.5,765.9 L1736.8,763.9 L1739.1,761.9 L1741.3,759.9 L1743.6,757.9 L1745.8,755.8 L1748.0,753.8 L1750.3,751.7 L1752.5,749.6 L1754.7,747.5 L1756.8,745.4 L1759.0,743.3 L1761.2,741.2 L1763.3,739.1 L1765.5,737.0 L1767.6,734.8 L1769.7,732.6 L1771.9,730.5 L1774.0,728.3 L1776.1,726.1 L1778.1,723.9 L1780.2,721.7 L1782.3,719.5 L1784.3,717.3 L1786.4,715.0 L1788.4,712.8 L1790.4,710.5 L1792.4,708.2 L1794.4,706.0 L1796.4,703.7 L1798.4,701.4 L1800.4,699.1 L1802.3,696.8 L1804.3,694.5 L1806.2,692.1" fill="none" stroke="#cc2024" stroke-width="4.0" clip-path="url(#cb2)"/>
<path d="M399.5,88.6 L400.5,91.4 L401.6,94.2 L402.6,97.0 L403.6,99.9 L404.6,102.7 L405.7,105.5 L406.7,108.3 L407.8,111.1 L408.9,113.9 L410.0,116.8 L411.1,119.6 L412.2,122.4 L413.3,125.2 L414.4,128.0 L415.6,130.8 L416.7,133.6 L417.9,136.4 L419.0,139.2 L420.2,142.0 L421.4,144.8 L422.6,147.5 L423.8,150.3 L425.1,153.1 L426.3,155.9 L427.6,158.6 L428.8,161.4 L430.1,164.1 L431.4,166.9 L432.7,169.6 L434.0,172.4 L435.3,175.1 L436.6,177.8 L438.0,180.6 L439.3,183.3 L440.7,186.0 L442.1,188.7 L443.4,191.4 L444.8,194.1 L446.3,196.8 L447.7,199.4 L449.1,202.1 L450.6,204.8 L452.0,207.4 L453.5,210.1 L455.0,212.7 L456.5,215.4 L458.0,218.0 L459.6,220.6 L461.1,223.2 L462.6,225.8 L464.2,228.4 L465.8,231.0 L467.4,233.6 L469.0,236.2 L470.6,238.7 L472.2,241.3 L473.9,243.8 L475.5,246.4 L477.2,248.9 L478.9,251.4 L480.6,253.9 L482.3,256.4 L484.0,258.9 L485.7,261.4 L487.5,263.8 L489.2,266.3 L491.0,268.7 L492.8,271.2 L494.6,273.6 L496.4,276.0 L498.2,278.4 L500.1,280.8 L501.9,283.2 L503.8,285.6 L505.6,287.9 L507.5,290.3 L509.4,292.6 L511.3,295.0 L513.3,297.3 L515.2,299.6 L517.2,301.9 L519.1,304.2 L521.1,306.4 L523.1,308.7 L525.1,311.0 L527.1,313.2 L529.1,315.4 L531.2,317.6 L533.2,319.8 L535.3,322.0 L537.4,324.2 L539.5,326.4 L541.6,328.5 L543.7,330.7 L545.8,332.8 L548.0,334.9 L550.1,337.1 L552.3,339.2 L554.4,341.2 L556.6,343.3 L558.8,345.4 L561.0,347.4 L563.3,349.4 L565.5,351.5 L567.8,353.5 L570.0,355.5 L572.3,357.5 L574.6,359.4 L576.9,361.4 L579.2,363.3 L581.5,365.3 L583.8,367.2 L586.1,369.1 L588.5,371.0 L590.9,372.9 L593.2,374.8 L595.6,376.6 L598.0,378.5 L600.4,380.3 L602.8,382.1 L605.2,383.9 L607.7,385.7 L610.1,387.5 L612.6,389.3 L615.0,391.0 L617.5,392.8 L620.0,394.5 L622.5,396.2 L625.0,397.9 L627.5,399.6 L630.0,401.3 L632.6,403.0 L635.1,404.6 L637.6,406.2 L640.2,407.9 L642.8,409.5 L645.3,411.1 L647.9,412.7 L650.5,414.3 L653.1,415.8 L655.7,417.4 L658.4,418.9 L661.0,420.5 L663.6,422.0 L666.2,423.5 L668.9,425.0 L671.5,426.4 L674.2,427.9 L676.9,429.4 L679.6,430.8 L682.2,432.2 L684.9,433.7 L687.6,435.1 L690.3,436.5 L693.0,437.8 L695.7,439.2 L698.5,440.6 L701.2,441.9 L703.9,443.3 L706.6,444.6 L709.4,445.9 L712.1,447.2 L714.9,448.5 L717.6,449.8 L720.4,451.0 L723.2,452.3 L725.9,453.5 L728.7,454.8 L731.5,456.0 L734.2,457.2 L737.0,458.4 L739.8,459.6 L742.6,460.8 L745.4,461.9 L748.2,463.1 L751.0,464.2 L753.8,465.4 L756.6,466.5 L759.4,467.6 L762.2,468.7 L765.0,469.8 L767.8,470.9 L770.6,472.0 L773.4,473.1 L776.2,474.1 L779.0,475.2 L781.8,476.2 L784.6,477.2 L787.4,478.3 L790.2,479.3 L793.0,480.3 L795.8,481.3 L798.6,482.3 L801.4,483.3" fill="none" stroke="#cc2024" stroke-width="4.0" stroke-dasharray="14.5,7" clip-path="url(#ct0)"/>
<path d="M898.6,103.5 L899.7,106.3 L900.8,109.0 L901.9,111.8 L903.0,114.6 L904.1,117.4 L905.3,120.1 L906.4,122.9 L907.5,125.7 L908.7,128.5 L909.9,131.2 L911.0,134.0 L912.2,136.8 L913.4,139.6 L914.5,142.4 L915.7,145.2 L916.9,147.9 L918.1,150.7 L919.3,153.5 L920.6,156.3 L921.8,159.0 L923.0,161.8 L924.3,164.6 L925.5,167.4 L926.8,170.1 L928.0,172.9 L929.3,175.6 L930.6,178.4 L931.9,181.2 L933.2,183.9 L934.5,186.6 L935.9,189.4 L937.2,192.1 L938.5,194.9 L939.9,197.6 L941.3,200.3 L942.6,203.0 L944.0,205.7 L945.4,208.4 L946.8,211.1 L948.3,213.8 L949.7,216.5 L951.1,219.2 L952.6,221.9 L954.1,224.5 L955.5,227.2 L957.0,229.9 L958.5,232.5 L960.0,235.1 L961.6,237.8 L963.1,240.4 L964.7,243.0 L966.2,245.6 L967.8,248.2 L969.4,250.8 L971.0,253.4 L972.6,256.0 L974.2,258.5 L975.9,261.1 L977.5,263.6 L979.2,266.2 L980.9,268.7 L982.5,271.2 L984.2,273.7 L986.0,276.2 L987.7,278.7 L989.4,281.2 L991.2,283.7 L992.9,286.1 L994.7,288.6 L996.5,291.0 L998.3,293.4 L1000.2,295.9 L1002.0,298.3 L1003.8,300.7 L1005.7,303.0 L1007.6,305.4 L1009.5,307.8 L1011.4,310.1 L1013.3,312.5 L1015.2,314.8 L1017.1,317.1 L1019.1,319.4 L1021.1,321.7 L1023.0,324.0 L1025.0,326.2 L1027.0,328.5 L1029.1,330.7 L1031.1,333.0 L1033.1,335.2 L1035.2,337.4 L1037.3,339.6 L1039.4,341.8 L1041.5,343.9 L1043.6,346.1 L1045.7,348.2 L1047.8,350.4 L1050.0,352.5 L1052.1,354.6 L1054.3,356.7 L1056.5,358.8 L1058.7,360.9 L1060.9,362.9 L1063.2,365.0 L1065.4,367.0 L1067.6,369.0 L1069.9,371.0 L1072.2,373.0 L1074.5,375.0 L1076.8,376.9 L1079.1,378.9 L1081.4,380.8 L1083.7,382.8 L1086.1,384.7 L1088.5,386.6 L1090.8,388.5 L1093.2,390.4 L1095.6,392.2 L1098.0,394.1 L1100.4,395.9 L1102.8,397.7 L1105.3,399.5 L1107.7,401.3 L1110.2,403.1 L1112.6,404.9 L1115.1,406.7 L1117.6,408.4 L1120.1,410.2 L1122.6,411.9 L1125.1,413.6 L1127.6,415.3 L1130.2,417.0 L1132.7,418.7 L1135.3,420.3 L1137.8,422.0 L1140.4,423.6 L1143.0,425.2 L1145.5,426.8 L1148.1,428.4 L1150.7,430.0 L1153.4,431.6 L1156.0,433.2 L1158.6,434.7 L1161.2,436.3 L1163.9,437.8 L1166.5,439.3 L1169.1,440.8 L1171.8,442.3 L1174.5,443.8 L1177.1,445.3 L1179.8,446.8 L1182.5,448.2 L1185.2,449.7 L1187.8,451.1 L1190.5,452.5 L1193.2,453.9 L1195.9,455.3 L1198.6,456.7 L1201.4,458.1 L1204.1,459.5 L1206.8,460.8 L1209.5,462.2 L1212.2,463.5 L1214.9,464.8 L1217.7,466.2 L1220.4,467.5 L1223.1,468.8 L1225.9,470.1 L1228.6,471.4 L1231.3,472.6 L1234.1,473.9 L1236.8,475.2 L1239.5,476.4 L1242.2,477.7 L1245.0,478.9 L1247.7,480.2 L1250.4,481.4 L1253.2,482.6 L1255.9,483.8 L1258.6,485.0 L1261.3,486.2" fill="none" stroke="#cc2024" stroke-width="4.0" stroke-dasharray="14.5,7" clip-path="url(#ct1)"/>
<path d="M1318.3,157.9 L1319.3,160.7 L1320.4,163.5 L1321.5,166.3 L1322.6,169.2 L1323.7,172.0 L1324.9,174.8 L1326.0,177.6 L1327.2,180.4 L1328.4,183.2 L1329.6,186.0 L1330.8,188.8 L1332.1,191.5 L1333.3,194.3 L1334.6,197.0 L1335.9,199.8 L1337.2,202.5 L1338.5,205.3 L1339.8,208.0 L1341.2,210.7 L1342.6,213.4 L1343.9,216.1 L1345.3,218.8 L1346.8,221.5 L1348.2,224.2 L1349.6,226.9 L1351.1,229.5 L1352.6,232.2 L1354.1,234.8 L1355.6,237.5 L1357.1,240.1 L1358.7,242.7 L1360.2,245.3 L1361.8,247.9 L1363.4,250.5 L1365.0,253.0 L1366.6,255.6 L1368.3,258.1 L1369.9,260.7 L1371.6,263.2 L1373.3,265.7 L1375.0,268.2 L1376.7,270.7 L1378.4,273.2 L1380.2,275.7 L1382.0,278.2 L1383.7,280.6 L1385.5,283.1 L1387.3,285.5 L1389.2,287.9 L1391.0,290.3 L1392.9,292.7 L1394.7,295.1 L1396.6,297.4 L1398.5,299.8 L1400.4,302.1 L1402.4,304.5 L1404.3,306.8 L1406.3,309.1 L1408.2,311.4 L1410.2,313.7 L1412.2,315.9 L1414.2,318.2 L1416.3,320.4 L1418.3,322.6 L1420.4,324.8 L1422.4,327.0 L1424.5,329.2 L1426.6,331.4 L1428.7,333.6 L1430.9,335.7 L1433.0,337.8 L1435.2,339.9 L1437.3,342.0 L1439.5,344.1 L1441.7,346.2 L1443.9,348.3 L1446.1,350.3 L1448.4,352.3 L1450.6,354.4 L1452.9,356.4 L1455.1,358.3 L1457.4,360.3 L1459.7,362.3 L1462.0,364.2 L1464.4,366.2 L1466.7,368.1 L1469.0,370.0 L1471.4,371.9 L1473.8,373.7 L1476.2,375.6 L1478.6,377.4 L1481.0,379.2 L1483.4,381.1 L1485.8,382.9 L1488.3,384.6 L1490.7,386.4 L1493.2,388.1 L1495.7,389.9 L1498.1,391.6 L1500.6,393.3 L1503.2,395.0 L1505.7,396.7 L1508.2,398.3 L1510.8,400.0 L1513.3,401.6 L1515.9,403.2 L1518.4,404.8 L1521.0,406.4 L1523.6,408.0 L1526.2,409.5 L1528.8,411.1 L1531.4,412.6 L1534.1,414.1 L1536.7,415.6 L1539.4,417.1 L1542.0,418.6 L1544.7,420.0 L1547.4,421.4 L1550.0,422.9 L1552.7,424.3 L1555.4,425.7 L1558.1,427.0 L1560.9,428.4 L1563.6,429.7 L1566.3,431.1 L1569.1,432.4 L1571.8,433.7 L1574.6,435.0 L1577.3,436.2 L1580.1,437.5 L1582.9,438.7 L1585.7,440.0 L1588.5,441.2 L1591.3,442.4 L1594.1,443.5 L1596.9,444.7 L1599.7,445.9 L1602.5,447.0 L1605.3,448.1 L1608.2,449.2 L1611.0,450.3 L1613.8,451.4 L1616.7,452.5 L1619.6,453.6 L1622.4,454.6 L1625.3,455.6 L1628.1,456.6 L1631.0,457.6 L1633.9,458.6 L1636.8,459.6 L1639.7,460.6 L1642.5,461.5 L1645.4,462.4 L1648.3,463.4 L1651.2,464.3 L1654.1,465.2 L1657.0,466.0 L1659.9,466.9 L1662.9,467.8 L1665.8,468.6 L1668.7,469.4 L1671.6,470.2 L1674.5,471.0 L1677.4,471.8 L1680.4,472.6 L1683.3,473.4 L1686.2,474.1 L1689.1,474.9 L1692.1,475.6 L1695.0,476.3 L1697.9,477.0 L1700.8,477.7 L1703.8,478.4 L1706.7,479.1 L1709.6,479.8 L1712.5,480.4 L1715.5,481.1 L1718.4,481.7 L1721.3,482.3 L1724.2,482.9 L1727.1,483.5 L1730.1,484.1 L1733.0,484.7 L1735.9,485.2" fill="none" stroke="#cc2024" stroke-width="4.0" stroke-dasharray="14.5,7" clip-path="url(#ct2)"/>
<path d="M399.3,917.6 L402.1,916.7 L405.0,915.9 L407.8,915.0 L410.7,914.2 L413.6,913.4 L416.4,912.6 L419.3,911.8 L422.2,911.0 L425.1,910.2 L428.0,909.4 L430.9,908.6 L433.8,907.8 L436.7,907.0 L439.6,906.2 L442.5,905.4 L445.4,904.6 L448.4,903.8 L451.3,903.0 L454.2,902.2 L457.1,901.4 L460.0,900.6 L463.0,899.8 L465.9,898.9 L468.8,898.1 L471.7,897.3 L474.7,896.5 L477.6,895.6 L480.5,894.8 L483.4,894.0 L486.4,893.1 L489.3,892.3 L492.2,891.4 L495.1,890.5 L498.0,889.6 L500.9,888.8 L503.8,887.9 L506.8,887.0 L509.7,886.0 L512.6,885.1 L515.5,884.2 L518.4,883.2 L521.3,882.3 L524.1,881.3 L527.0,880.3 L529.9,879.4 L532.8,878.4 L535.6,877.3 L538.5,876.3 L541.4,875.3 L544.2,874.2 L547.1,873.2 L549.9,872.1 L552.7,871.0 L555.6,869.9 L558.4,868.8 L561.2,867.7 L564.0,866.5 L566.8,865.4 L569.6,864.2 L572.4,863.0 L575.2,861.8 L578.0,860.6 L580.7,859.3 L583.5,858.1 L586.2,856.8 L589.0,855.5 L591.7,854.2 L594.4,852.9 L597.1,851.6 L599.8,850.2 L602.5,848.8 L605.2,847.4 L607.9,846.0 L610.5,844.6 L613.2,843.2 L615.8,841.7 L618.4,840.2 L621.1,838.8 L623.7,837.2 L626.3,835.7 L628.9,834.2 L631.4,832.6 L634.0,831.0 L636.5,829.4 L639.1,827.8 L641.6,826.2 L644.1,824.5 L646.6,822.8 L649.1,821.1 L651.6,819.4 L654.0,817.7 L656.5,815.9 L658.9,814.2 L661.4,812.4 L663.8,810.6 L666.2,808.8 L668.5,806.9 L670.9,805.0 L673.3,803.2 L675.6,801.3 L677.9,799.4 L680.3,797.4 L682.6,795.5 L684.8,793.5 L687.1,791.5 L689.4,789.5 L691.6,787.5 L693.8,785.4 L696.0,783.4 L698.2,781.3 L700.4,779.2 L702.6,777.1 L704.7,774.9 L706.8,772.8 L708.9,770.6 L711.0,768.4 L713.1,766.2 L715.2,764.0 L717.2,761.8 L719.3,759.5 L721.3,757.2 L723.3,754.9 L725.3,752.6 L727.2,750.3 L729.2,748.0 L731.1,745.6 L733.0,743.3 L734.9,740.9 L736.8,738.5 L738.7,736.1 L740.5,733.7 L742.3,731.2 L744.2,728.8 L745.9,726.3 L747.7,723.8 L749.5,721.3 L751.2,718.8 L752.9,716.3 L754.6,713.8 L756.3,711.2 L758.0,708.6 L759.6,706.1 L761.3,703.5 L762.9,700.9 L764.5,698.3 L766.0,695.7 L767.6,693.1 L769.1,690.4 L770.6,687.8 L772.1,685.1 L773.6,682.5 L775.1,679.8 L776.5,677.1 L777.9,674.4 L779.3,671.7 L780.7,669.0 L782.1,666.3 L783.4,663.6 L784.8,660.9 L786.1,658.2 L787.3,655.4 L788.6,652.7 L789.9,650.0 L791.1,647.2 L792.3,644.5 L793.5,641.7 L794.7,638.9 L795.8,636.2 L796.9,633.4 L798.1,630.7 L799.1,627.9 L800.2,625.1 L801.3,622.4 L802.3,619.6" fill="none" stroke="#cc2024" stroke-width="4.0" stroke-dasharray="14.5,7" clip-path="url(#cb0)"/>
<path d="M898.4,914.3 L901.2,913.5 L904.0,912.8 L906.9,912.0 L909.7,911.3 L912.6,910.5 L915.4,909.8 L918.3,909.0 L921.1,908.3 L924.0,907.5 L926.9,906.8 L929.8,906.0 L932.7,905.2 L935.6,904.5 L938.5,903.7 L941.4,902.9 L944.3,902.1 L947.2,901.3 L950.1,900.5 L953.0,899.7 L956.0,898.9 L958.9,898.1 L961.8,897.3 L964.7,896.4 L967.7,895.6 L970.6,894.7 L973.5,893.9 L976.4,893.0 L979.4,892.1 L982.3,891.2 L985.2,890.3 L988.1,889.4 L991.0,888.5 L993.9,887.5 L996.8,886.6 L999.8,885.6 L1002.7,884.6 L1005.6,883.6 L1008.4,882.6 L1011.3,881.6 L1014.2,880.5 L1017.1,879.5 L1020.0,878.4 L1022.8,877.3 L1025.7,876.2 L1028.5,875.1 L1031.4,874.0 L1034.2,872.9 L1037.1,871.7 L1039.9,870.5 L1042.7,869.3 L1045.5,868.1 L1048.3,866.9 L1051.1,865.7 L1053.9,864.4 L1056.6,863.1 L1059.4,861.8 L1062.1,860.5 L1064.9,859.2 L1067.6,857.8 L1070.3,856.4 L1073.0,855.1 L1075.7,853.6 L1078.4,852.2 L1081.0,850.8 L1083.7,849.3 L1086.3,847.8 L1089.0,846.3 L1091.6,844.8 L1094.2,843.3 L1096.8,841.7 L1099.3,840.1 L1101.9,838.5 L1104.4,836.9 L1107.0,835.2 L1109.5,833.6 L1112.0,831.9 L1114.5,830.2 L1117.0,828.5 L1119.4,826.7 L1121.9,825.0 L1124.3,823.2 L1126.7,821.4 L1129.1,819.6 L1131.4,817.7 L1133.8,815.9 L1136.1,814.0 L1138.5,812.1 L1140.8,810.1 L1143.1,808.2 L1145.3,806.2 L1147.6,804.3 L1149.8,802.3 L1152.1,800.2 L1154.3,798.2 L1156.4,796.1 L1158.6,794.0 L1160.7,791.9 L1162.9,789.8 L1165.0,787.7 L1167.1,785.5 L1169.1,783.3 L1171.2,781.1 L1173.2,778.9 L1175.2,776.7 L1177.2,774.4 L1179.2,772.2 L1181.2,769.9 L1183.1,767.5 L1185.0,765.2 L1186.9,762.9 L1188.8,760.5 L1190.6,758.1 L1192.5,755.7 L1194.3,753.3 L1196.1,750.9 L1197.8,748.4 L1199.6,746.0 L1201.3,743.5 L1203.0,741.0 L1204.7,738.5 L1206.4,735.9 L1208.0,733.4 L1209.7,730.8 L1211.3,728.3 L1212.9,725.7 L1214.4,723.1 L1216.0,720.5 L1217.5,717.8 L1219.0,715.2 L1220.5,712.5 L1221.9,709.9 L1223.4,707.2 L1224.8,704.5 L1226.2,701.8 L1227.5,699.1 L1228.9,696.3 L1230.2,693.6 L1231.5,690.8 L1232.8,688.1 L1234.1,685.3 L1235.3,682.5 L1236.6,679.7 L1237.8,677.0 L1238.9,674.1 L1240.1,671.3 L1241.3,668.5 L1242.4,665.7 L1243.5,662.9 L1244.5,660.0 L1245.6,657.2 L1246.6,654.3 L1247.7,651.5 L1248.7,648.6 L1249.6,645.7 L1250.6,642.9 L1251.5,640.0 L1252.4,637.1 L1253.3,634.3 L1254.2,631.4 L1255.0,628.5 L1255.9,625.6 L1256.7,622.7 L1257.5,619.9 L1258.2,617.0 L1259.0,614.1 L1259.7,611.2 L1260.4,608.4 L1261.1,605.5" fill="none" stroke="#cc2024" stroke-width="4.0" stroke-dasharray="14.5,7" clip-path="url(#cb1)"/>
<path d="M1314.1,908.8 L1316.9,908.0 L1319.8,907.2 L1322.6,906.4 L1325.4,905.6 L1328.3,904.8 L1331.1,904.0 L1334.0,903.2 L1336.8,902.4 L1339.7,901.5 L1342.5,900.7 L1345.4,899.9 L1348.3,899.0 L1351.2,898.2 L1354.1,897.3 L1356.9,896.4 L1359.8,895.6 L1362.7,894.7 L1365.6,893.8 L1368.5,892.9 L1371.4,892.0 L1374.3,891.1 L1377.2,890.2 L1380.1,889.2 L1383.0,888.3 L1385.9,887.4 L1388.7,886.4 L1391.6,885.4 L1394.5,884.5 L1397.4,883.5 L1400.3,882.5 L1403.2,881.5 L1406.1,880.5 L1409.0,879.4 L1411.8,878.4 L1414.7,877.4 L1417.6,876.3 L1420.4,875.2 L1423.3,874.2 L1426.2,873.1 L1429.0,872.0 L1431.9,870.8 L1434.7,869.7 L1437.6,868.6 L1440.4,867.4 L1443.2,866.3 L1446.1,865.1 L1448.9,863.9 L1451.7,862.7 L1454.5,861.5 L1457.3,860.3 L1460.1,859.0 L1462.9,857.8 L1465.7,856.5 L1468.4,855.2 L1471.2,853.9 L1474.0,852.6 L1476.7,851.3 L1479.4,850.0 L1482.2,848.6 L1484.9,847.3 L1487.6,845.9 L1490.3,844.5 L1493.0,843.1 L1495.7,841.7 L1498.4,840.3 L1501.1,838.8 L1503.7,837.4 L1506.4,835.9 L1509.0,834.4 L1511.7,832.9 L1514.3,831.4 L1516.9,829.9 L1519.5,828.3 L1522.1,826.7 L1524.7,825.2 L1527.3,823.6 L1529.9,822.0 L1532.4,820.4 L1535.0,818.7 L1537.5,817.1 L1540.0,815.4 L1542.5,813.8 L1545.0,812.1 L1547.5,810.4 L1550.0,808.6 L1552.5,806.9 L1554.9,805.2 L1557.4,803.4 L1559.8,801.6 L1562.2,799.8 L1564.7,798.0 L1567.1,796.2 L1569.4,794.4 L1571.8,792.5 L1574.2,790.7 L1576.5,788.8 L1578.9,786.9 L1581.2,785.0 L1583.5,783.1 L1585.9,781.2 L1588.2,779.2 L1590.4,777.3 L1592.7,775.3 L1595.0,773.3 L1597.2,771.3 L1599.5,769.3 L1601.7,767.3 L1603.9,765.2 L1606.1,763.2 L1608.3,761.1 L1610.5,759.0 L1612.7,756.9 L1614.8,754.8 L1617.0,752.7 L1619.1,750.6 L1621.3,748.5 L1623.4,746.3 L1625.5,744.1 L1627.6,742.0 L1629.7,739.8 L1631.7,737.6 L1633.8,735.4 L1635.8,733.2 L1637.9,730.9 L1639.9,728.7 L1641.9,726.4 L1643.9,724.2 L1645.9,721.9 L1647.9,719.6 L1649.9,717.3 L1651.9,715.0 L1653.8,712.7 L1655.8,710.4 L1657.7,708.1 L1659.6,705.7 L1661.6,703.4 L1663.5,701.0 L1665.4,698.7 L1667.3,696.3 L1669.2,693.9 L1671.0,691.5 L1672.9,689.1 L1674.8,686.7 L1676.6,684.3 L1678.4,681.9 L1680.3,679.5 L1682.1,677.0 L1683.9,674.6 L1685.7,672.2 L1687.5,669.7 L1689.3,667.3 L1691.1,664.8 L1692.9,662.3 L1694.7,659.9 L1696.5,657.4 L1698.2,654.9 L1700.0,652.5 L1701.7,650.0 L1703.5,647.5 L1705.2,645.0 L1707.0,642.5 L1708.7,640.0 L1710.4,637.5 L1712.1,635.0 L1713.9,632.5 L1715.6,630.0 L1717.3,627.5 L1719.0,625.0 L1720.7,622.5 L1722.4,620.0 L1724.1,617.6 L1725.8,615.1 L1727.5,612.6 L1729.2,610.1 L1730.9,607.6 L1732.5,605.1 L1734.2,602.6 L1735.9,600.1 L1737.6,597.7 L1739.3,595.2 L1741.0,592.7" fill="none" stroke="#cc2024" stroke-width="4.0" stroke-dasharray="14.5,7" clip-path="url(#cb2)"/>
<path d="M419.2,105.9 L420.4,108.7 L421.5,111.4 L422.7,114.1 L423.8,116.8 L425.0,119.6 L426.2,122.3 L427.3,125.1 L428.5,127.8 L429.7,130.5 L430.9,133.3 L432.1,136.0 L433.2,138.8 L434.4,141.5 L435.6,144.3 L436.9,147.1 L438.1,149.8 L439.3,152.6 L440.5,155.3 L441.8,158.1 L443.0,160.8 L444.2,163.6 L445.5,166.3 L446.8,169.1 L448.0,171.8 L449.3,174.6 L450.6,177.3 L451.9,180.0 L453.2,182.8 L454.5,185.5 L455.8,188.2 L457.1,191.0 L458.5,193.7 L459.8,196.4 L461.2,199.1 L462.5,201.8 L463.9,204.6 L465.3,207.3 L466.7,210.0 L468.1,212.6 L469.5,215.3 L470.9,218.0 L472.4,220.7 L473.8,223.4 L475.3,226.0 L476.7,228.7 L478.2,231.3 L479.7,234.0 L481.2,236.6 L482.7,239.2 L484.2,241.9 L485.8,244.5 L487.3,247.1 L488.9,249.7 L490.4,252.3 L492.0,254.9 L493.6,257.4 L495.2,260.0 L496.8,262.5 L498.5,265.1 L500.1,267.6 L501.8,270.2 L503.4,272.7 L505.1,275.2 L506.8,277.7 L508.5,280.2 L510.2,282.7 L512.0,285.1 L513.7,287.6 L515.5,290.1 L517.2,292.5 L519.0,294.9 L520.8,297.3 L522.6,299.8 L524.5,302.1 L526.3,304.5 L528.1,306.9 L530.0,309.3 L531.9,311.6 L533.8,314.0 L535.7,316.3 L537.6,318.6 L539.5,320.9 L541.5,323.2 L543.4,325.5 L545.4,327.8 L547.4,330.0 L549.4,332.3 L551.4,334.5 L553.4,336.7 L555.4,338.9 L557.5,341.1 L559.6,343.3 L561.6,345.5 L563.7,347.6 L565.8,349.8 L567.9,351.9 L570.1,354.0 L572.2,356.2 L574.4,358.2 L576.5,360.3 L578.7,362.4 L580.9,364.4 L583.1,366.5 L585.3,368.5 L587.6,370.5 L589.8,372.5 L592.1,374.5 L594.3,376.5 L596.6,378.5 L598.9,380.4 L601.2,382.3 L603.5,384.3 L605.9,386.2 L608.2,388.1 L610.6,389.9 L612.9,391.8 L615.3,393.7 L617.7,395.5 L620.1,397.3 L622.5,399.1 L624.9,400.9 L627.4,402.7 L629.8,404.5 L632.3,406.3 L634.7,408.0 L637.2,409.7 L639.7,411.5 L642.2,413.2 L644.7,414.9 L647.2,416.5 L649.8,418.2 L652.3,419.9 L654.9,421.5 L657.4,423.1 L660.0,424.8 L662.6,426.4 L665.1,427.9 L667.7,429.5 L670.3,431.1 L673.0,432.6 L675.6,434.2 L678.2,435.7 L680.8,437.2 L683.5,438.7 L686.1,440.2 L688.8,441.7 L691.4,443.1 L694.1,444.6 L696.8,446.0 L699.5,447.4 L702.2,448.9 L704.9,450.3 L707.6,451.6 L710.3,453.0 L713.0,454.4 L715.7,455.7 L718.4,457.1 L721.2,458.4 L723.9,459.7 L726.6,461.1 L729.4,462.4 L732.1,463.6 L734.9,464.9 L737.6,466.2 L740.4,467.4 L743.1,468.7 L745.9,469.9 L748.7,471.2 L751.4,472.4 L754.2,473.6 L756.9,474.8 L759.7,476.0 L762.5,477.1 L765.3,478.3 L768.0,479.5 L770.8,480.6 L773.6,481.8 L776.3,482.9 L779.1,484.0 L781.9,485.1 L784.6,486.3" fill="none" stroke="#0c0c9e" stroke-width="4.0" clip-path="url(#ct0)"/>
<path d="M932.9,55.1 L934.2,57.8 L935.5,60.5 L936.8,63.2 L938.0,65.9 L939.3,68.6 L940.6,71.3 L941.8,74.1 L943.0,76.8 L944.3,79.5 L945.5,82.3 L946.7,85.0 L948.0,87.8 L949.2,90.5 L950.4,93.3 L951.6,96.1 L952.8,98.8 L954.0,101.6 L955.2,104.4 L956.4,107.1 L957.6,109.9 L958.8,112.7 L960.0,115.5 L961.2,118.2 L962.4,121.0 L963.6,123.8 L964.8,126.6 L965.9,129.4 L967.1,132.2 L968.3,134.9 L969.5,137.7 L970.7,140.5 L971.9,143.3 L973.2,146.1 L974.4,148.9 L975.6,151.6 L976.8,154.4 L978.0,157.2 L979.2,160.0 L980.5,162.7 L981.7,165.5 L982.9,168.3 L984.2,171.0 L985.4,173.8 L986.7,176.6 L987.9,179.3 L989.2,182.1 L990.5,184.8 L991.8,187.6 L993.1,190.3 L994.3,193.1 L995.6,195.8 L997.0,198.5 L998.3,201.3 L999.6,204.0 L1000.9,206.7 L1002.3,209.4 L1003.6,212.1 L1005.0,214.8 L1006.3,217.5 L1007.7,220.2 L1009.1,222.9 L1010.5,225.6 L1011.9,228.2 L1013.3,230.9 L1014.8,233.6 L1016.2,236.2 L1017.6,238.9 L1019.1,241.5 L1020.6,244.1 L1022.0,246.8 L1023.5,249.4 L1025.0,252.0 L1026.5,254.6 L1028.1,257.2 L1029.6,259.8 L1031.1,262.4 L1032.7,265.0 L1034.3,267.5 L1035.8,270.1 L1037.4,272.6 L1039.0,275.2 L1040.6,277.7 L1042.3,280.2 L1043.9,282.8 L1045.6,285.3 L1047.2,287.8 L1048.9,290.3 L1050.6,292.8 L1052.3,295.2 L1054.0,297.7 L1055.7,300.2 L1057.5,302.6 L1059.2,305.0 L1061.0,307.5 L1062.8,309.9 L1064.6,312.3 L1066.4,314.7 L1068.2,317.1 L1070.0,319.5 L1071.9,321.9 L1073.7,324.2 L1075.6,326.6 L1077.5,328.9 L1079.3,331.3 L1081.3,333.6 L1083.2,335.9 L1085.1,338.2 L1087.0,340.5 L1089.0,342.8 L1091.0,345.1 L1093.0,347.3 L1095.0,349.6 L1097.0,351.8 L1099.0,354.1 L1101.0,356.3 L1103.1,358.5 L1105.1,360.7 L1107.2,362.9 L1109.3,365.1 L1111.4,367.3 L1113.5,369.4 L1115.6,371.6 L1117.7,373.7 L1119.9,375.9 L1122.0,378.0 L1124.2,380.1 L1126.3,382.2 L1128.5,384.3 L1130.7,386.4 L1132.9,388.5 L1135.2,390.5 L1137.4,392.6 L1139.6,394.6 L1141.9,396.6 L1144.1,398.7 L1146.4,400.7 L1148.7,402.7 L1151.0,404.7 L1153.3,406.7 L1155.6,408.6 L1157.9,410.6 L1160.3,412.5 L1162.6,414.5 L1164.9,416.4 L1167.3,418.3 L1169.7,420.2 L1172.0,422.2 L1174.4,424.0 L1176.8,425.9 L1179.2,427.8 L1181.6,429.7 L1184.0,431.5 L1186.4,433.4 L1188.9,435.2 L1191.3,437.0 L1193.7,438.9 L1196.2,440.7 L1198.6,442.5 L1201.1,444.3 L1203.5,446.1 L1206.0,447.8 L1208.5,449.6 L1210.9,451.4 L1213.4,453.1 L1215.9,454.8 L1218.4,456.6 L1220.9,458.3 L1223.4,460.0 L1225.8,461.7 L1228.3,463.4 L1230.8,465.1 L1233.3,466.8 L1235.8,468.5 L1238.3,470.2 L1240.9,471.8 L1243.4,473.5 L1245.9,475.1 L1248.4,476.8 L1250.9,478.4 L1253.4,480.1 L1255.9,481.7 L1258.4,483.3 L1260.9,484.9 L1263.4,486.5" fill="none" stroke="#0c0c9e" stroke-width="4.0" clip-path="url(#ct1)"/>
<path d="M1453.7,105.6 L1454.8,108.4 L1455.9,111.3 L1457.0,114.1 L1458.2,116.9 L1459.4,119.7 L1460.5,122.5 L1461.7,125.3 L1462.9,128.1 L1464.2,130.9 L1465.4,133.7 L1466.7,136.4 L1468.0,139.2 L1469.2,141.9 L1470.5,144.6 L1471.9,147.3 L1473.2,150.1 L1474.5,152.8 L1475.9,155.5 L1477.3,158.1 L1478.7,160.8 L1480.1,163.5 L1481.5,166.2 L1482.9,168.8 L1484.4,171.5 L1485.8,174.1 L1487.3,176.7 L1488.8,179.4 L1490.3,182.0 L1491.8,184.6 L1493.3,187.2 L1494.8,189.8 L1496.4,192.4 L1497.9,195.0 L1499.5,197.5 L1501.1,200.1 L1502.7,202.7 L1504.3,205.2 L1505.9,207.8 L1507.5,210.3 L1509.2,212.8 L1510.8,215.4 L1512.5,217.9 L1514.2,220.4 L1515.8,222.9 L1517.5,225.4 L1519.2,227.9 L1520.9,230.4 L1522.7,232.8 L1524.4,235.3 L1526.2,237.8 L1527.9,240.2 L1529.7,242.7 L1531.4,245.1 L1533.2,247.6 L1535.0,250.0 L1536.8,252.4 L1538.7,254.8 L1540.5,257.3 L1542.3,259.7 L1544.2,262.1 L1546.0,264.5 L1547.9,266.8 L1549.7,269.2 L1551.6,271.6 L1553.5,273.9 L1555.4,276.3 L1557.3,278.7 L1559.2,281.0 L1561.2,283.3 L1563.1,285.7 L1565.1,288.0 L1567.0,290.3 L1569.0,292.6 L1570.9,294.9 L1572.9,297.2 L1574.9,299.5 L1576.9,301.8 L1578.9,304.0 L1580.9,306.3 L1583.0,308.5 L1585.0,310.8 L1587.0,313.0 L1589.1,315.3 L1591.1,317.5 L1593.2,319.7 L1595.3,321.9 L1597.4,324.1 L1599.5,326.3 L1601.6,328.5 L1603.7,330.7 L1605.8,332.8 L1607.9,335.0 L1610.0,337.1 L1612.2,339.3 L1614.3,341.4 L1616.5,343.5 L1618.7,345.6 L1620.8,347.7 L1623.0,349.8 L1625.2,351.9 L1627.4,354.0 L1629.6,356.0 L1631.8,358.1 L1634.1,360.1 L1636.3,362.2 L1638.5,364.2 L1640.8,366.2 L1643.1,368.2 L1645.3,370.2 L1647.6,372.2 L1649.9,374.2 L1652.2,376.1 L1654.5,378.1 L1656.8,380.0 L1659.1,381.9 L1661.5,383.8 L1663.8,385.7 L1666.2,387.6 L1668.5,389.5 L1670.9,391.4 L1673.3,393.2 L1675.7,395.1 L1678.1,396.9 L1680.5,398.7 L1682.9,400.5 L1685.3,402.3 L1687.8,404.0 L1690.2,405.8 L1692.7,407.5 L1695.1,409.3 L1697.6,411.0 L1700.1,412.7 L1702.6,414.4 L1705.1,416.0 L1707.6,417.7 L1710.1,419.3 L1712.7,421.0 L1715.2,422.6 L1717.8,424.2 L1720.3,425.7 L1722.9,427.3 L1725.5,428.8 L1728.1,430.3 L1730.7,431.9 L1733.4,433.3 L1736.0,434.8 L1738.6,436.3 L1741.3,437.7 L1744.0,439.1 L1746.7,440.5 L1749.4,441.9 L1752.1,443.2 L1754.8,444.6 L1757.5,445.9 L1760.3,447.2 L1763.0,448.5 L1765.8,449.7 L1768.6,451.0 L1771.4,452.2 L1774.2,453.4 L1777.0,454.5 L1779.8,455.7 L1782.7,456.8 L1785.6,457.9 L1788.4,459.0 L1791.3,460.1 L1794.2,461.1 L1797.2,462.1 L1800.1,463.1 L1803.0,464.1 L1806.0,465.0" fill="none" stroke="#0c0c9e" stroke-width="4.0" clip-path="url(#ct2)"/>
<path d="M416.5,917.8 L419.3,916.9 L422.0,915.9 L424.8,915.0 L427.6,914.1 L430.4,913.2 L433.2,912.2 L436.1,911.3 L438.9,910.4 L441.7,909.5 L444.6,908.7 L447.4,907.8 L450.3,906.9 L453.2,906.0 L456.0,905.1 L458.9,904.3 L461.8,903.4 L464.7,902.5 L467.6,901.6 L470.5,900.8 L473.4,899.9 L476.3,899.0 L479.2,898.1 L482.1,897.3 L485.0,896.4 L487.9,895.5 L490.8,894.6 L493.8,893.7 L496.7,892.8 L499.6,891.9 L502.5,891.0 L505.4,890.1 L508.3,889.2 L511.2,888.2 L514.1,887.3 L517.1,886.3 L520.0,885.4 L522.9,884.4 L525.8,883.4 L528.7,882.4 L531.6,881.5 L534.4,880.4 L537.3,879.4 L540.2,878.4 L543.1,877.4 L545.9,876.3 L548.8,875.2 L551.7,874.2 L554.5,873.1 L557.4,872.0 L560.2,870.8 L563.0,869.7 L565.8,868.6 L568.7,867.4 L571.5,866.2 L574.3,865.0 L577.1,863.8 L579.8,862.6 L582.6,861.4 L585.4,860.1 L588.1,858.8 L590.9,857.5 L593.6,856.2 L596.3,854.9 L599.0,853.6 L601.7,852.2 L604.4,850.8 L607.1,849.4 L609.8,848.0 L612.4,846.6 L615.1,845.1 L617.7,843.7 L620.3,842.2 L622.9,840.7 L625.5,839.1 L628.1,837.6 L630.7,836.0 L633.2,834.4 L635.8,832.8 L638.3,831.2 L640.8,829.6 L643.3,827.9 L645.8,826.2 L648.3,824.5 L650.7,822.8 L653.2,821.1 L655.6,819.3 L658.0,817.5 L660.4,815.7 L662.8,813.9 L665.2,812.1 L667.5,810.2 L669.8,808.3 L672.2,806.4 L674.5,804.5 L676.8,802.5 L679.0,800.6 L681.3,798.6 L683.5,796.6 L685.7,794.6 L687.9,792.5 L690.1,790.5 L692.3,788.4 L694.4,786.3 L696.6,784.2 L698.7,782.0 L700.8,779.9 L702.9,777.7 L704.9,775.5 L707.0,773.3 L709.0,771.1 L711.0,768.8 L713.0,766.6 L715.0,764.3 L717.0,762.0 L718.9,759.7 L720.8,757.3 L722.7,755.0 L724.6,752.6 L726.5,750.2 L728.3,747.8 L730.2,745.4 L732.0,743.0 L733.8,740.5 L735.5,738.0 L737.3,735.6 L739.0,733.1 L740.7,730.5 L742.5,728.0 L744.1,725.5 L745.8,722.9 L747.4,720.4 L749.1,717.8 L750.7,715.2 L752.3,712.6 L753.8,710.0 L755.4,707.4 L756.9,704.7 L758.5,702.1 L759.9,699.4 L761.4,696.7 L762.9,694.1 L764.3,691.4 L765.8,688.7 L767.2,686.0 L768.6,683.3 L769.9,680.5 L771.3,677.8 L772.6,675.1 L773.9,672.4 L775.2,669.6 L776.5,666.9 L777.8,664.1 L779.0,661.3 L780.3,658.6 L781.5,655.8 L782.7,653.0" fill="none" stroke="#0c0c9e" stroke-width="4.0" clip-path="url(#cb0)"/>
<path d="M936.7,919.7 L939.5,919.0 L942.4,918.2 L945.2,917.4 L948.1,916.7 L950.9,915.9 L953.8,915.1 L956.7,914.4 L959.5,913.6 L962.4,912.9 L965.3,912.1 L968.2,911.4 L971.1,910.6 L974.0,909.9 L976.9,909.1 L979.9,908.4 L982.8,907.6 L985.7,906.9 L988.6,906.1 L991.6,905.3 L994.5,904.6 L997.4,903.8 L1000.4,903.0 L1003.3,902.2 L1006.3,901.4 L1009.2,900.6 L1012.1,899.8 L1015.1,898.9 L1018.0,898.1 L1020.9,897.2 L1023.9,896.4 L1026.8,895.5 L1029.7,894.6 L1032.7,893.7 L1035.6,892.8 L1038.5,891.9 L1041.4,890.9 L1044.3,890.0 L1047.2,889.0 L1050.1,888.0 L1053.0,887.1 L1055.9,886.0 L1058.8,885.0 L1061.7,884.0 L1064.5,882.9 L1067.4,881.8 L1070.2,880.7 L1073.1,879.6 L1075.9,878.5 L1078.8,877.3 L1081.6,876.2 L1084.4,875.0 L1087.2,873.8 L1090.0,872.5 L1092.7,871.3 L1095.5,870.0 L1098.3,868.7 L1101.0,867.4 L1103.7,866.1 L1106.4,864.7 L1109.1,863.3 L1111.8,861.9 L1114.5,860.5 L1117.2,859.1 L1119.8,857.6 L1122.5,856.1 L1125.1,854.6 L1127.7,853.1 L1130.3,851.5 L1132.8,850.0 L1135.4,848.4 L1137.9,846.7 L1140.5,845.1 L1143.0,843.4 L1145.5,841.7 L1147.9,840.0 L1150.4,838.3 L1152.8,836.5 L1155.3,834.7 L1157.7,832.9 L1160.0,831.1 L1162.4,829.2 L1164.7,827.3 L1167.1,825.4 L1169.4,823.5 L1171.7,821.5 L1173.9,819.5 L1176.2,817.5 L1178.4,815.5 L1180.6,813.5 L1182.8,811.4 L1184.9,809.3 L1187.0,807.2 L1189.1,805.0 L1191.2,802.9 L1193.3,800.7 L1195.3,798.5 L1197.4,796.2 L1199.3,794.0 L1201.3,791.7 L1203.3,789.4 L1205.2,787.1 L1207.1,784.7 L1208.9,782.4 L1210.8,780.0 L1212.6,777.6 L1214.4,775.1 L1216.2,772.7 L1217.9,770.2 L1219.6,767.7 L1221.3,765.2 L1223.0,762.7 L1224.6,760.1 L1226.2,757.6 L1227.8,755.0 L1229.3,752.4 L1230.9,749.8 L1232.3,747.1 L1233.8,744.5 L1235.2,741.8 L1236.7,739.1 L1238.0,736.4 L1239.4,733.7 L1240.7,730.9 L1242.0,728.2 L1243.3,725.4 L1244.5,722.6 L1245.7,719.8 L1246.8,717.0 L1248.0,714.2 L1249.1,711.3 L1250.2,708.5 L1251.2,705.6 L1252.2,702.8 L1253.2,699.9 L1254.2,697.0 L1255.1,694.1 L1256.0,691.2 L1256.8,688.2 L1257.6,685.3 L1258.4,682.4 L1259.2,679.4 L1259.9,676.5 L1260.6,673.5 L1261.2,670.6 L1261.9,667.6 L1262.5,664.6 L1263.0,661.7" fill="none" stroke="#0c0c9e" stroke-width="4.0" clip-path="url(#cb1)"/>
<path d="M1451.6,917.5 L1454.6,916.8 L1457.5,916.1 L1460.5,915.4 L1463.4,914.7 L1466.3,914.0 L1469.3,913.3 L1472.3,912.6 L1475.2,911.9 L1478.2,911.2 L1481.1,910.5 L1484.1,909.8 L1487.0,909.1 L1490.0,908.4 L1493.0,907.7 L1495.9,907.0 L1498.9,906.3 L1501.8,905.6 L1504.8,904.9 L1507.8,904.2 L1510.7,903.5 L1513.7,902.8 L1516.6,902.1 L1519.6,901.4 L1522.5,900.6 L1525.5,899.9 L1528.5,899.2 L1531.4,898.4 L1534.4,897.7 L1537.3,896.9 L1540.3,896.2 L1543.2,895.4 L1546.2,894.6 L1549.1,893.8 L1552.0,893.0 L1555.0,892.2 L1557.9,891.4 L1560.8,890.6 L1563.8,889.8 L1566.7,888.9 L1569.6,888.1 L1572.5,887.2 L1575.4,886.4 L1578.4,885.5 L1581.3,884.6 L1584.2,883.7 L1587.1,882.7 L1590.0,881.8 L1592.9,880.9 L1595.7,879.9 L1598.6,878.9 L1601.5,878.0 L1604.4,877.0 L1607.2,875.9 L1610.1,874.9 L1613.0,873.9 L1615.8,872.8 L1618.7,871.8 L1621.5,870.7 L1624.3,869.6 L1627.2,868.5 L1630.0,867.3 L1632.8,866.2 L1635.6,865.0 L1638.4,863.9 L1641.2,862.7 L1644.0,861.5 L1646.8,860.2 L1649.5,859.0 L1652.3,857.7 L1655.1,856.5 L1657.8,855.2 L1660.6,853.9 L1663.3,852.5 L1666.0,851.2 L1668.7,849.8 L1671.5,848.5 L1674.2,847.1 L1676.9,845.7 L1679.5,844.2 L1682.2,842.8 L1684.9,841.3 L1687.5,839.9 L1690.2,838.4 L1692.8,836.9 L1695.5,835.3 L1698.1,833.8 L1700.7,832.2 L1703.3,830.6 L1705.9,829.0 L1708.5,827.4 L1711.0,825.8 L1713.6,824.1 L1716.2,822.5 L1718.7,820.8 L1721.2,819.1 L1723.7,817.4 L1726.3,815.6 L1728.7,813.9 L1731.2,812.1 L1733.7,810.3 L1736.2,808.5 L1738.6,806.7 L1741.1,804.8 L1743.5,803.0 L1745.9,801.1 L1748.3,799.2 L1750.7,797.3 L1753.1,795.4 L1755.4,793.5 L1757.8,791.5 L1760.1,789.6 L1762.4,787.6 L1764.7,785.6 L1767.0,783.6 L1769.3,781.5 L1771.6,779.5 L1773.9,777.4 L1776.1,775.4 L1778.3,773.3 L1780.5,771.2 L1782.7,769.1 L1784.9,766.9 L1787.1,764.8 L1789.3,762.7 L1791.4,760.5 L1793.5,758.3 L1795.7,756.1 L1797.8,753.9 L1799.8,751.7 L1801.9,749.5 L1804.0,747.2 L1806.0,745.0" fill="none" stroke="#0c0c9e" stroke-width="4.0" clip-path="url(#cb2)"/>
<path d="M425.0,295.0 L426.7,297.5 L428.5,300.0 L430.2,302.4 L431.9,304.9 L433.7,307.4 L435.5,309.8 L437.3,312.2 L439.1,314.7 L440.9,317.1 L442.8,319.5 L444.6,321.9 L446.5,324.3 L448.4,326.6 L450.3,329.0 L452.2,331.3 L454.2,333.7 L456.1,336.0 L458.1,338.3 L460.1,340.6 L462.1,342.9 L464.1,345.2 L466.1,347.4 L468.2,349.7 L470.2,351.9 L472.3,354.1 L474.4,356.3 L476.5,358.5 L478.6,360.7 L480.8,362.9 L482.9,365.0 L485.1,367.1 L487.3,369.3 L489.5,371.4 L491.7,373.4 L493.9,375.5 L496.1,377.6 L498.4,379.6 L500.6,381.6 L502.9,383.6 L505.2,385.6 L507.5,387.6 L509.8,389.6 L512.2,391.5 L514.5,393.4 L516.9,395.3 L519.3,397.2 L521.6,399.1 L524.0,401.0 L526.5,402.8 L528.9,404.6 L531.3,406.4 L533.8,408.2 L536.2,410.0 L538.7,411.7 L541.2,413.5 L543.7,415.2 L546.2,416.9 L548.7,418.5 L551.2,420.2 L553.8,421.9 L556.4,423.5 L558.9,425.1 L561.5,426.7 L564.1,428.2 L566.7,429.8 L569.3,431.3 L571.9,432.9 L574.6,434.4 L577.2,435.8 L579.9,437.3 L582.5,438.8 L585.2,440.2 L587.9,441.6 L590.6,443.0 L593.3,444.4 L596.0,445.7 L598.7,447.1 L601.4,448.4 L604.2,449.7 L606.9,451.0 L609.7,452.3 L612.4,453.5 L615.2,454.7 L618.0,456.0 L620.8,457.2 L623.5,458.4 L626.3,459.5 L629.2,460.7 L632.0,461.8 L634.8,462.9 L637.6,464.0 L640.4,465.1 L643.3,466.2 L646.1,467.3 L649.0,468.3 L651.8,469.3 L654.7,470.3 L657.6,471.3 L660.5,472.3 L663.3,473.3 L666.2,474.2 L669.1,475.2 L672.0,476.1 L674.9,477.0 L677.8,477.9 L680.7,478.8 L683.6,479.6 L686.5,480.5 L689.4,481.3 L692.3,482.2 L695.3,483.0 L698.2,483.8 L701.1,484.6 L704.0,485.3" fill="none" stroke="#0c0c9e" stroke-width="4.0" stroke-dasharray="14.5,7" clip-path="url(#ct0)"/>
<path d="M859.8,68.7 L860.9,71.5 L862.0,74.2 L863.0,77.0 L864.1,79.8 L865.2,82.5 L866.2,85.3 L867.3,88.1 L868.4,90.9 L869.4,93.7 L870.5,96.5 L871.5,99.3 L872.6,102.1 L873.6,104.9 L874.7,107.7 L875.8,110.5 L876.8,113.4 L877.9,116.2 L878.9,119.0 L880.0,121.8 L881.1,124.7 L882.1,127.5 L883.2,130.3 L884.3,133.2 L885.3,136.0 L886.4,138.8 L887.5,141.7 L888.6,144.5 L889.7,147.3 L890.8,150.2 L891.9,153.0 L893.0,155.8 L894.1,158.7 L895.3,161.5 L896.4,164.3 L897.5,167.1 L898.7,170.0 L899.8,172.8 L901.0,175.6 L902.2,178.4 L903.3,181.2 L904.5,184.0 L905.7,186.8 L906.9,189.6 L908.1,192.4 L909.3,195.2 L910.6,198.0 L911.8,200.7 L913.1,203.5 L914.3,206.3 L915.6,209.1 L916.9,211.8 L918.2,214.6 L919.5,217.3 L920.8,220.0 L922.1,222.8 L923.4,225.5 L924.8,228.2 L926.1,230.9 L927.5,233.6 L928.9,236.3 L930.3,239.0 L931.7,241.7 L933.1,244.4 L934.5,247.0 L936.0,249.7 L937.4,252.4 L938.9,255.0 L940.4,257.6 L941.9,260.3 L943.4,262.9 L944.9,265.5 L946.4,268.1 L948.0,270.7 L949.5,273.2 L951.1,275.8 L952.7,278.4 L954.3,280.9 L955.9,283.4 L957.6,286.0 L959.2,288.5 L960.9,291.0 L962.5,293.5 L964.2,296.0 L965.9,298.4 L967.7,300.9 L969.4,303.3 L971.1,305.8 L972.9,308.2 L974.7,310.6 L976.5,313.0 L978.3,315.4 L980.1,317.8 L981.9,320.2 L983.8,322.5 L985.7,324.9 L987.5,327.2 L989.4,329.5 L991.4,331.8 L993.3,334.1 L995.2,336.4 L997.2,338.7 L999.2,340.9 L1001.1,343.2 L1003.1,345.4 L1005.2,347.6 L1007.2,349.8 L1009.2,352.0 L1011.3,354.2 L1013.4,356.4 L1015.5,358.5 L1017.6,360.7 L1019.7,362.8 L1021.8,364.9 L1024.0,367.0 L1026.1,369.1 L1028.3,371.2 L1030.5,373.2 L1032.7,375.3 L1034.9,377.3 L1037.1,379.3 L1039.4,381.3 L1041.6,383.3 L1043.9,385.3 L1046.2,387.2 L1048.5,389.2 L1050.8,391.1 L1053.1,393.0 L1055.5,394.9 L1057.8,396.8 L1060.2,398.7 L1062.6,400.6 L1065.0,402.4 L1067.4,404.2 L1069.8,406.1 L1072.2,407.9 L1074.6,409.7 L1077.1,411.4 L1079.5,413.2 L1082.0,415.0 L1084.5,416.7 L1087.0,418.4 L1089.5,420.1 L1092.0,421.8 L1094.5,423.5 L1097.1,425.2 L1099.6,426.8 L1102.2,428.4 L1104.7,430.1 L1107.3,431.7 L1109.9,433.3 L1112.5,434.9 L1115.1,436.4 L1117.7,438.0 L1120.3,439.5 L1122.9,441.1 L1125.6,442.6 L1128.2,444.1 L1130.9,445.6 L1133.5,447.0 L1136.2,448.5 L1138.9,450.0 L1141.5,451.4 L1144.2,452.8 L1146.9,454.2 L1149.6,455.6 L1152.3,457.0 L1155.0,458.4 L1157.7,459.7 L1160.4,461.1 L1163.1,462.4 L1165.9,463.7 L1168.6,465.0 L1171.3,466.3 L1174.0,467.6 L1176.8,468.9 L1179.5,470.1 L1182.2,471.4 L1185.0,472.6 L1187.7,473.8 L1190.4,475.0 L1193.2,476.2 L1195.9,477.4 L1198.7,478.6 L1201.4,479.8 L1204.1,480.9" fill="none" stroke="#0c0c9e" stroke-width="4.0" stroke-dasharray="14.5,7" clip-path="url(#ct1)"/>
<path d="M1358.0,80.6 L1359.3,83.2 L1360.5,85.8 L1361.8,88.5 L1363.0,91.1 L1364.3,93.8 L1365.5,96.5 L1366.7,99.2 L1368.0,101.8 L1369.2,104.5 L1370.4,107.3 L1371.6,110.0 L1372.9,112.7 L1374.1,115.4 L1375.3,118.2 L1376.5,120.9 L1377.7,123.7 L1379.0,126.4 L1380.2,129.2 L1381.4,131.9 L1382.6,134.7 L1383.9,137.5 L1385.1,140.2 L1386.3,143.0 L1387.6,145.8 L1388.8,148.6 L1390.1,151.3 L1391.3,154.1 L1392.6,156.9 L1393.8,159.7 L1395.1,162.4 L1396.4,165.2 L1397.6,168.0 L1398.9,170.8 L1400.2,173.5 L1401.5,176.3 L1402.8,179.1 L1404.1,181.8 L1405.4,184.6 L1406.7,187.3 L1408.1,190.1 L1409.4,192.8 L1410.8,195.6 L1412.1,198.3 L1413.5,201.1 L1414.9,203.8 L1416.3,206.5 L1417.7,209.2 L1419.1,211.9 L1420.5,214.6 L1421.9,217.3 L1423.3,220.0 L1424.8,222.7 L1426.3,225.4 L1427.7,228.0 L1429.2,230.7 L1430.7,233.3 L1432.2,236.0 L1433.7,238.6 L1435.3,241.2 L1436.8,243.9 L1438.4,246.5 L1439.9,249.0 L1441.5,251.6 L1443.1,254.2 L1444.7,256.8 L1446.3,259.3 L1448.0,261.9 L1449.6,264.4 L1451.3,266.9 L1453.0,269.4 L1454.7,271.9 L1456.4,274.4 L1458.1,276.9 L1459.8,279.3 L1461.6,281.8 L1463.3,284.2 L1465.1,286.6 L1466.9,289.0 L1468.7,291.4 L1470.5,293.8 L1472.4,296.2 L1474.2,298.5 L1476.1,300.9 L1478.0,303.2 L1479.9,305.5 L1481.8,307.8 L1483.7,310.1 L1485.7,312.4 L1487.6,314.7 L1489.6,316.9 L1491.6,319.1 L1493.6,321.4 L1495.6,323.6 L1497.6,325.8 L1499.7,327.9 L1501.7,330.1 L1503.8,332.2 L1505.9,334.4 L1508.0,336.5 L1510.2,338.6 L1512.3,340.7 L1514.5,342.7 L1516.6,344.8 L1518.8,346.8 L1521.0,348.8 L1523.2,350.9 L1525.5,352.8 L1527.7,354.8 L1530.0,356.8 L1532.2,358.7 L1534.5,360.7 L1536.8,362.6 L1539.1,364.5 L1541.5,366.4 L1543.8,368.3 L1546.2,370.1 L1548.5,372.0 L1550.9,373.8 L1553.3,375.6 L1555.7,377.4 L1558.2,379.2 L1560.6,381.0 L1563.0,382.7 L1565.5,384.4 L1568.0,386.2 L1570.5,387.9 L1573.0,389.6 L1575.5,391.3 L1578.0,392.9 L1580.6,394.6 L1583.1,396.2 L1585.7,397.8 L1588.2,399.4 L1590.8,401.0 L1593.4,402.6 L1596.0,404.2 L1598.6,405.7 L1601.3,407.3 L1603.9,408.8 L1606.5,410.3 L1609.2,411.8 L1611.8,413.3 L1614.5,414.8 L1617.2,416.3 L1619.9,417.7 L1622.6,419.1 L1625.3,420.6 L1628.0,422.0 L1630.7,423.4 L1633.4,424.8 L1636.2,426.2 L1638.9,427.5 L1641.6,428.9 L1644.4,430.2 L1647.2,431.6 L1649.9,432.9 L1652.7,434.2 L1655.4,435.5 L1658.2,436.8 L1661.0,438.1 L1663.8,439.4 L1666.6,440.6 L1669.4,441.9 L1672.1,443.1 L1674.9,444.4 L1677.7,445.6 L1680.5,446.8 L1683.3,448.1 L1686.1,449.3 L1688.9,450.5 L1691.7,451.7 L1694.5,452.9 L1697.3,454.0 L1700.1,455.2 L1702.9,456.4 L1705.7,457.6 L1708.4,458.7 L1711.2,459.9 L1714.0,461.0 L1716.8,462.2 L1719.6,463.3 L1722.3,464.5 L1725.1,465.6 L1727.8,466.7 L1730.6,467.9 L1733.3,469.0 L1736.1,470.1 L1738.8,471.3 L1741.5,472.4 L1744.2,473.5 L1746.9,474.6 L1749.6,475.7 L1752.3,476.9 L1755.0,478.0" fill="none" stroke="#0c0c9e" stroke-width="4.0" stroke-dasharray="14.5,7" clip-path="url(#ct2)"/>
<path d="M445.9,876.0 L448.8,875.0 L451.7,873.9 L454.6,872.8 L457.4,871.6 L460.3,870.5 L463.1,869.3 L465.9,868.0 L468.7,866.8 L471.5,865.5 L474.2,864.2 L476.9,862.9 L479.7,861.5 L482.4,860.1 L485.1,858.8 L487.7,857.3 L490.4,855.9 L493.1,854.4 L495.7,853.0 L498.3,851.4 L500.9,849.9 L503.5,848.4 L506.1,846.8 L508.7,845.2 L511.3,843.6 L513.8,842.0 L516.4,840.4 L518.9,838.8 L521.4,837.1 L524.0,835.4 L526.5,833.7 L529.0,832.0 L531.4,830.3 L533.9,828.5 L536.4,826.8 L538.8,825.0 L541.3,823.2 L543.7,821.4 L546.2,819.6 L548.6,817.8 L551.0,815.9 L553.4,814.1 L555.8,812.2 L558.2,810.4 L560.6,808.5 L562.9,806.6 L565.3,804.7 L567.7,802.8 L570.0,800.8 L572.4,798.9 L574.7,796.9 L577.0,795.0 L579.3,793.0 L581.7,791.0 L584.0,789.0 L586.2,787.0 L588.5,785.0 L590.8,783.0 L593.1,781.0 L595.3,778.9 L597.6,776.9 L599.8,774.8 L602.1,772.7 L604.3,770.7 L606.5,768.6 L608.7,766.5 L610.9,764.4 L613.1,762.3 L615.3,760.1 L617.5,758.0 L619.6,755.9 L621.8,753.7 L623.9,751.6 L626.1,749.4 L628.2,747.2 L630.3,745.0 L632.4,742.8 L634.5,740.6 L636.6,738.4 L638.6,736.2 L640.7,733.9 L642.7,731.7 L644.7,729.4 L646.7,727.2 L648.7,724.9 L650.7,722.6 L652.7,720.3 L654.7,718.0 L656.6,715.6 L658.5,713.3 L660.4,711.0 L662.3,708.6 L664.2,706.2 L666.1,703.9 L667.9,701.5 L669.8,699.0 L671.6,696.6 L673.4,694.2 L675.1,691.7 L676.9,689.3 L678.6,686.8 L680.3,684.3 L682.0,681.8 L683.7,679.3 L685.4,676.7 L687.0,674.2 L688.6,671.6 L690.2,669.0 L691.7,666.4 L693.2,663.7 L694.8,661.1 L696.2,658.4 L697.7,655.7 L699.1,653.0 L700.5,650.3 L701.9,647.6 L703.2,644.8 L704.5,642.0 L705.8,639.2 L707.1,636.4" fill="none" stroke="#0c0c9e" stroke-width="4.0" stroke-dasharray="14.5,7" clip-path="url(#cb0)"/>
<path d="M858.0,918.4 L860.8,917.5 L863.7,916.6 L866.6,915.8 L869.5,914.9 L872.4,914.0 L875.3,913.1 L878.2,912.2 L881.1,911.4 L884.0,910.5 L886.9,909.6 L889.8,908.8 L892.7,907.9 L895.7,907.0 L898.6,906.2 L901.5,905.3 L904.4,904.4 L907.3,903.6 L910.2,902.7 L913.1,901.8 L916.0,900.9 L918.9,900.1 L921.9,899.2 L924.8,898.3 L927.7,897.4 L930.6,896.5 L933.5,895.5 L936.4,894.6 L939.3,893.7 L942.2,892.8 L945.0,891.8 L947.9,890.9 L950.8,889.9 L953.7,888.9 L956.6,887.9 L959.4,886.9 L962.3,885.9 L965.2,884.9 L968.0,883.9 L970.9,882.9 L973.7,881.8 L976.6,880.7 L979.4,879.7 L982.3,878.6 L985.1,877.5 L987.9,876.3 L990.7,875.2 L993.5,874.1 L996.3,872.9 L999.1,871.7 L1001.9,870.5 L1004.7,869.3 L1007.5,868.1 L1010.2,866.9 L1013.0,865.6 L1015.7,864.3 L1018.5,863.0 L1021.2,861.7 L1023.9,860.4 L1026.7,859.1 L1029.4,857.7 L1032.1,856.3 L1034.7,854.9 L1037.4,853.5 L1040.1,852.1 L1042.7,850.6 L1045.4,849.2 L1048.0,847.7 L1050.7,846.2 L1053.3,844.6 L1055.9,843.1 L1058.5,841.5 L1061.0,839.9 L1063.6,838.3 L1066.2,836.7 L1068.7,835.1 L1071.3,833.4 L1073.8,831.7 L1076.3,830.0 L1078.8,828.3 L1081.3,826.6 L1083.7,824.8 L1086.2,823.0 L1088.6,821.2 L1091.0,819.4 L1093.5,817.5 L1095.8,815.7 L1098.2,813.8 L1100.6,811.9 L1103.0,810.0 L1105.3,808.0 L1107.6,806.1 L1109.9,804.1 L1112.2,802.1 L1114.5,800.1 L1116.7,798.0 L1119.0,796.0 L1121.2,793.9 L1123.4,791.8 L1125.6,789.7 L1127.8,787.6 L1130.0,785.4 L1132.1,783.3 L1134.2,781.1 L1136.3,778.9 L1138.4,776.6 L1140.5,774.4 L1142.5,772.1 L1144.6,769.9 L1146.6,767.6 L1148.6,765.3 L1150.6,762.9 L1152.5,760.6 L1154.5,758.2 L1156.4,755.8 L1158.3,753.5 L1160.1,751.0 L1162.0,748.6 L1163.8,746.2 L1165.7,743.7 L1167.4,741.3 L1169.2,738.8 L1171.0,736.3 L1172.7,733.8 L1174.4,731.3 L1176.1,728.7 L1177.8,726.2 L1179.4,723.6 L1181.0,721.0 L1182.6,718.5 L1184.2,715.9 L1185.8,713.3 L1187.3,710.6 L1188.8,708.0 L1190.3,705.4 L1191.8,702.7 L1193.2,700.1 L1194.6,697.4 L1196.0,694.8 L1197.4,692.1 L1198.7,689.4 L1200.0,686.7 L1201.3,684.0 L1202.6,681.3 L1203.8,678.6 L1205.0,675.9" fill="none" stroke="#0c0c9e" stroke-width="4.0" stroke-dasharray="14.5,7" clip-path="url(#cb1)"/>
<path d="M1358.4,917.6 L1361.3,917.0 L1364.2,916.4 L1367.1,915.7 L1370.0,915.1 L1372.9,914.4 L1375.9,913.7 L1378.8,913.1 L1381.7,912.4 L1384.6,911.7 L1387.6,911.0 L1390.5,910.4 L1393.4,909.7 L1396.3,909.0 L1399.2,908.2 L1402.2,907.5 L1405.1,906.8 L1408.0,906.1 L1410.9,905.3 L1413.9,904.6 L1416.8,903.8 L1419.7,903.1 L1422.6,902.3 L1425.5,901.5 L1428.5,900.7 L1431.4,899.9 L1434.3,899.1 L1437.2,898.3 L1440.1,897.5 L1443.0,896.7 L1445.9,895.8 L1448.8,895.0 L1451.8,894.1 L1454.7,893.2 L1457.6,892.4 L1460.5,891.5 L1463.3,890.6 L1466.2,889.7 L1469.1,888.8 L1472.0,887.8 L1474.9,886.9 L1477.8,885.9 L1480.7,885.0 L1483.5,884.0 L1486.4,883.0 L1489.3,882.0 L1492.2,881.0 L1495.0,880.0 L1497.9,879.0 L1500.7,878.0 L1503.6,876.9 L1506.4,875.8 L1509.3,874.8 L1512.1,873.7 L1514.9,872.6 L1517.8,871.5 L1520.6,870.4 L1523.4,869.2 L1526.2,868.1 L1529.0,866.9 L1531.8,865.8 L1534.6,864.6 L1537.4,863.4 L1540.2,862.2 L1543.0,861.0 L1545.7,859.8 L1548.5,858.5 L1551.3,857.3 L1554.0,856.0 L1556.8,854.7 L1559.5,853.4 L1562.3,852.1 L1565.0,850.8 L1567.7,849.5 L1570.4,848.1 L1573.1,846.7 L1575.8,845.4 L1578.5,844.0 L1581.2,842.6 L1583.9,841.2 L1586.6,839.7 L1589.2,838.3 L1591.9,836.9 L1594.5,835.4 L1597.2,833.9 L1599.8,832.4 L1602.4,830.9 L1605.0,829.4 L1607.6,827.8 L1610.2,826.3 L1612.8,824.7 L1615.4,823.1 L1618.0,821.5 L1620.5,819.9 L1623.1,818.3 L1625.6,816.7 L1628.1,815.0 L1630.7,813.4 L1633.2,811.7 L1635.7,810.0 L1638.2,808.3 L1640.6,806.6 L1643.1,804.8 L1645.6,803.1 L1648.0,801.3 L1650.4,799.5 L1652.9,797.8 L1655.3,795.9 L1657.7,794.1 L1660.1,792.3 L1662.5,790.4 L1664.8,788.6 L1667.2,786.7 L1669.5,784.8 L1671.9,782.9 L1674.2,781.0 L1676.5,779.1 L1678.8,777.1 L1681.1,775.1 L1683.3,773.2 L1685.6,771.2 L1687.8,769.2 L1690.1,767.1 L1692.3,765.1 L1694.5,763.1 L1696.7,761.0 L1698.9,758.9 L1701.0,756.8 L1703.2,754.7 L1705.3,752.6 L1707.4,750.5 L1709.5,748.3 L1711.6,746.2 L1713.7,744.0 L1715.8,741.8 L1717.8,739.6 L1719.9,737.4 L1721.9,735.2 L1723.9,732.9 L1725.9,730.7 L1727.8,728.4 L1729.8,726.1 L1731.7,723.8 L1733.7,721.5 L1735.6,719.2 L1737.5,716.9 L1739.3,714.5 L1741.2,712.1 L1743.0,709.8 L1744.9,707.4 L1746.7,705.0 L1748.5,702.6 L1750.2,700.1 L1752.0,697.7 L1753.7,695.2 L1755.5,692.8 L1757.2,690.3 L1758.9,687.8 L1760.5,685.3 L1762.2,682.8 L1763.8,680.2 L1765.4,677.7 L1767.0,675.2 L1768.6,672.6 L1770.2,670.0 L1771.7,667.4 L1773.2,664.8 L1774.7,662.2 L1776.2,659.6 L1777.7,657.0 L1779.1,654.3" fill="none" stroke="#0c0c9e" stroke-width="4.0" stroke-dasharray="14.5,7" clip-path="url(#cb2)"/>
<path d="M355.3,152.1 L356.5,154.8 L357.7,157.5 L358.9,160.3 L360.0,163.0 L361.2,165.7 L362.4,168.5 L363.6,171.2 L364.8,174.0 L366.0,176.7 L367.2,179.5 L368.4,182.2 L369.6,185.0 L370.8,187.8 L372.0,190.5 L373.2,193.3 L374.4,196.1 L375.6,198.8 L376.9,201.6 L378.1,204.4 L379.3,207.2 L380.6,209.9 L381.8,212.7 L383.1,215.5 L384.4,218.2 L385.7,221.0 L386.9,223.7 L388.2,226.5 L389.5,229.3 L390.9,232.0 L392.2,234.8 L393.5,237.5 L394.8,240.2 L396.2,243.0 L397.6,245.7 L398.9,248.4 L400.3,251.1 L401.7,253.9 L403.1,256.6 L404.5,259.3 L406.0,262.0 L407.4,264.6 L408.9,267.3 L410.3,270.0 L411.8,272.7 L413.3,275.3 L414.8,278.0 L416.3,280.6 L417.8,283.2 L419.4,285.9 L420.9,288.5 L422.5,291.1 L424.1,293.7 L425.7,296.3 L427.3,298.8 L428.9,301.4 L430.6,303.9 L432.2,306.5 L433.9,309.0 L435.6,311.5 L437.3,314.0 L439.0,316.5 L440.8,319.0 L442.5,321.5 L444.3,324.0 L446.1,326.4 L447.9,328.8 L449.7,331.3 L451.5,333.7 L453.3,336.1 L455.2,338.4 L457.1,340.8 L459.0,343.2 L460.9,345.5 L462.8,347.8 L464.7,350.1 L466.7,352.4 L468.7,354.7 L470.7,357.0 L472.7,359.3 L474.7,361.5 L476.7,363.7 L478.8,365.9 L480.8,368.1 L482.9,370.3 L485.0,372.5 L487.1,374.6 L489.3,376.7 L491.4,378.9 L493.6,381.0 L495.8,383.0 L498.0,385.1 L500.2,387.2 L502.4,389.2 L504.7,391.2 L506.9,393.2 L509.2,395.2 L511.5,397.2 L513.8,399.1 L516.1,401.1 L518.5,403.0 L520.8,404.9 L523.2,406.8 L525.6,408.6 L527.9,410.5 L530.4,412.3 L532.8,414.1 L535.2,415.9 L537.7,417.7 L540.1,419.5 L542.6,421.2 L545.1,422.9 L547.6,424.7 L550.1,426.4 L552.7,428.0 L555.2,429.7 L557.8,431.3 L560.3,433.0 L562.9,434.6 L565.5,436.1 L568.1,437.7 L570.7,439.3 L573.3,440.8 L576.0,442.3 L578.6,443.8 L581.3,445.3 L584.0,446.8 L586.6,448.2 L589.3,449.7 L592.0,451.1 L594.7,452.5 L597.4,453.9 L600.2,455.2 L602.9,456.6 L605.6,457.9 L608.4,459.2 L611.1,460.5 L613.9,461.8 L616.7,463.1 L619.4,464.3 L622.2,465.5 L625.0,466.8 L627.8,468.0 L630.6,469.1 L633.4,470.3 L636.2,471.4 L639.0,472.6 L641.8,473.7 L644.6,474.8 L647.5,475.9 L650.3,477.0 L653.1,478.0 L655.9,479.0 L658.8,480.1 L661.6,481.1 L664.4,482.1 L667.2,483.1 L670.1,484.0" fill="none" stroke="#1c6e1c" stroke-width="4.0" clip-path="url(#ct0)"/>
<path d="M895.0,55.3 L896.2,57.9 L897.4,60.6 L898.6,63.3 L899.7,66.0 L900.9,68.7 L902.0,71.4 L903.1,74.1 L904.3,76.8 L905.4,79.6 L906.5,82.3 L907.6,85.1 L908.7,87.9 L909.8,90.7 L910.8,93.4 L911.9,96.2 L913.0,99.0 L914.1,101.9 L915.1,104.7 L916.2,107.5 L917.3,110.3 L918.3,113.2 L919.4,116.0 L920.5,118.8 L921.5,121.7 L922.6,124.5 L923.7,127.4 L924.7,130.2 L925.8,133.1 L926.9,135.9 L927.9,138.8 L929.0,141.7 L930.1,144.5 L931.2,147.4 L932.3,150.2 L933.4,153.1 L934.4,156.0 L935.5,158.8 L936.7,161.7 L937.8,164.5 L938.9,167.4 L940.0,170.2 L941.1,173.1 L942.3,175.9 L943.4,178.8 L944.6,181.6 L945.7,184.4 L946.9,187.3 L948.1,190.1 L949.3,192.9 L950.5,195.7 L951.7,198.6 L952.9,201.4 L954.1,204.2 L955.3,207.0 L956.6,209.7 L957.8,212.5 L959.1,215.3 L960.4,218.1 L961.7,220.8 L963.0,223.6 L964.3,226.3 L965.6,229.1 L967.0,231.8 L968.3,234.5 L969.7,237.2 L971.0,239.9 L972.4,242.6 L973.8,245.3 L975.2,248.0 L976.7,250.7 L978.1,253.3 L979.6,256.0 L981.0,258.6 L982.5,261.3 L984.0,263.9 L985.5,266.5 L987.0,269.1 L988.6,271.7 L990.1,274.3 L991.7,276.8 L993.3,279.4 L994.9,281.9 L996.5,284.5 L998.1,287.0 L999.7,289.5 L1001.4,292.0 L1003.1,294.5 L1004.8,297.0 L1006.5,299.4 L1008.2,301.9 L1009.9,304.4 L1011.6,306.8 L1013.4,309.2 L1015.2,311.6 L1017.0,314.0 L1018.8,316.4 L1020.6,318.8 L1022.4,321.1 L1024.3,323.5 L1026.1,325.8 L1028.0,328.2 L1029.9,330.5 L1031.8,332.8 L1033.8,335.1 L1035.7,337.3 L1037.7,339.6 L1039.6,341.9 L1041.6,344.1 L1043.6,346.3 L1045.6,348.6 L1047.6,350.8 L1049.7,353.0 L1051.7,355.1 L1053.8,357.3 L1055.9,359.5 L1058.0,361.6 L1060.1,363.7 L1062.2,365.9 L1064.3,368.0 L1066.5,370.1 L1068.6,372.2 L1070.8,374.3 L1073.0,376.3 L1075.2,378.4 L1077.4,380.4 L1079.6,382.5 L1081.9,384.5 L1084.1,386.5 L1086.4,388.5 L1088.6,390.5 L1090.9,392.5 L1093.2,394.5 L1095.5,396.4 L1097.8,398.4 L1100.1,400.3 L1102.4,402.2 L1104.8,404.2 L1107.1,406.1 L1109.5,408.0 L1111.8,409.9 L1114.2,411.8 L1116.6,413.7 L1118.9,415.5 L1121.3,417.4 L1123.7,419.2 L1126.1,421.1 L1128.5,422.9 L1131.0,424.8 L1133.4,426.6 L1135.8,428.4 L1138.2,430.2 L1140.7,432.0 L1143.1,433.8 L1145.6,435.6 L1148.0,437.4 L1150.4,439.2 L1152.9,441.0 L1155.4,442.8 L1157.8,444.5 L1160.3,446.3 L1162.7,448.1 L1165.2,449.8 L1167.6,451.6 L1170.1,453.3 L1172.5,455.1 L1175.0,456.8 L1177.5,458.6 L1179.9,460.3 L1182.4,462.1 L1184.8,463.8 L1187.2,465.5 L1189.7,467.3 L1192.1,469.0 L1194.5,470.7 L1197.0,472.5 L1199.4,474.2 L1201.8,476.0 L1204.2,477.7 L1206.6,479.5" fill="none" stroke="#1c6e1c" stroke-width="4.0" clip-path="url(#ct1)"/>
<path d="M1396.2,86.7 L1397.2,89.5 L1398.3,92.3 L1399.3,95.1 L1400.4,97.8 L1401.5,100.6 L1402.6,103.4 L1403.7,106.2 L1404.7,109.0 L1405.9,111.8 L1407.0,114.6 L1408.1,117.4 L1409.2,120.2 L1410.4,123.0 L1411.5,125.7 L1412.7,128.5 L1413.8,131.3 L1415.0,134.1 L1416.2,136.9 L1417.4,139.7 L1418.6,142.4 L1419.8,145.2 L1421.0,148.0 L1422.2,150.8 L1423.5,153.5 L1424.7,156.3 L1426.0,159.0 L1427.3,161.8 L1428.5,164.6 L1429.8,167.3 L1431.1,170.0 L1432.4,172.8 L1433.8,175.5 L1435.1,178.3 L1436.4,181.0 L1437.8,183.7 L1439.2,186.4 L1440.5,189.1 L1441.9,191.9 L1443.3,194.6 L1444.7,197.3 L1446.1,199.9 L1447.6,202.6 L1449.0,205.3 L1450.5,208.0 L1451.9,210.6 L1453.4,213.3 L1454.9,216.0 L1456.4,218.6 L1457.9,221.2 L1459.4,223.9 L1460.9,226.5 L1462.5,229.1 L1464.0,231.7 L1465.6,234.3 L1467.2,236.9 L1468.8,239.5 L1470.4,242.1 L1472.0,244.7 L1473.6,247.2 L1475.3,249.8 L1476.9,252.4 L1478.6,254.9 L1480.3,257.4 L1481.9,259.9 L1483.6,262.5 L1485.4,265.0 L1487.1,267.5 L1488.8,269.9 L1490.6,272.4 L1492.3,274.9 L1494.1,277.3 L1495.9,279.8 L1497.7,282.2 L1499.5,284.7 L1501.3,287.1 L1503.1,289.5 L1505.0,291.9 L1506.8,294.3 L1508.7,296.6 L1510.6,299.0 L1512.5,301.4 L1514.4,303.7 L1516.3,306.1 L1518.3,308.4 L1520.2,310.7 L1522.2,313.0 L1524.1,315.3 L1526.1,317.6 L1528.1,319.8 L1530.1,322.1 L1532.1,324.4 L1534.1,326.6 L1536.2,328.8 L1538.2,331.0 L1540.3,333.2 L1542.4,335.4 L1544.5,337.6 L1546.6,339.8 L1548.7,341.9 L1550.8,344.1 L1552.9,346.2 L1555.1,348.3 L1557.3,350.4 L1559.4,352.5 L1561.6,354.6 L1563.8,356.7 L1566.0,358.7 L1568.2,360.8 L1570.5,362.8 L1572.7,364.8 L1575.0,366.9 L1577.2,368.9 L1579.5,370.8 L1581.8,372.8 L1584.1,374.8 L1586.4,376.7 L1588.7,378.7 L1591.0,380.6 L1593.4,382.5 L1595.7,384.4 L1598.1,386.3 L1600.5,388.2 L1602.8,390.0 L1605.2,391.9 L1607.6,393.7 L1610.0,395.5 L1612.5,397.3 L1614.9,399.1 L1617.4,400.9 L1619.8,402.7 L1622.3,404.4 L1624.7,406.2 L1627.2,407.9 L1629.7,409.6 L1632.2,411.4 L1634.7,413.0 L1637.3,414.7 L1639.8,416.4 L1642.3,418.1 L1644.9,419.7 L1647.4,421.3 L1650.0,422.9 L1652.6,424.6 L1655.2,426.1 L1657.7,427.7 L1660.3,429.3 L1662.9,430.8 L1665.6,432.4 L1668.2,433.9 L1670.8,435.4 L1673.5,436.9 L1676.1,438.4 L1678.8,439.9 L1681.4,441.4 L1684.1,442.8 L1686.8,444.3 L1689.4,445.7 L1692.1,447.1 L1694.8,448.5 L1697.5,449.9 L1700.2,451.3 L1702.9,452.7 L1705.7,454.0 L1708.4,455.4 L1711.1,456.7 L1713.9,458.0 L1716.6,459.3 L1719.3,460.6 L1722.1,461.9 L1724.9,463.2 L1727.6,464.5 L1730.4,465.7 L1733.2,466.9 L1735.9,468.2 L1738.7,469.4 L1741.5,470.6 L1744.3,471.8 L1747.1,473.0 L1749.9,474.1 L1752.7,475.3 L1755.5,476.4 L1758.3,477.6 L1761.1,478.7 L1763.9,479.8 L1766.7,480.9 L1769.5,482.0 L1772.3,483.1 L1775.1,484.2 L1778.0,485.2 L1780.8,486.3" fill="none" stroke="#1c6e1c" stroke-width="4.0" clip-path="url(#ct2)"/>
<path d="M355.1,911.3 L358.0,910.3 L360.8,909.4 L363.7,908.4 L366.5,907.4 L369.4,906.5 L372.3,905.5 L375.1,904.5 L378.0,903.5 L380.8,902.5 L383.7,901.4 L386.5,900.4 L389.4,899.4 L392.2,898.3 L395.1,897.2 L398.0,896.2 L400.8,895.1 L403.6,894.0 L406.5,892.9 L409.3,891.8 L412.2,890.6 L415.0,889.5 L417.8,888.4 L420.7,887.2 L423.5,886.0 L426.3,884.8 L429.1,883.6 L431.9,882.4 L434.7,881.2 L437.5,880.0 L440.3,878.7 L443.1,877.4 L445.9,876.2 L448.7,874.9 L451.4,873.6 L454.2,872.2 L456.9,870.9 L459.7,869.6 L462.4,868.2 L465.2,866.8 L467.9,865.4 L470.6,864.0 L473.3,862.6 L476.0,861.2 L478.7,859.7 L481.4,858.3 L484.1,856.8 L486.7,855.3 L489.4,853.8 L492.0,852.3 L494.7,850.7 L497.3,849.2 L499.9,847.6 L502.5,846.0 L505.1,844.4 L507.7,842.8 L510.3,841.2 L512.9,839.6 L515.4,837.9 L518.0,836.2 L520.5,834.5 L523.0,832.8 L525.5,831.1 L528.1,829.4 L530.5,827.6 L533.0,825.8 L535.5,824.1 L537.9,822.3 L540.4,820.4 L542.8,818.6 L545.2,816.8 L547.7,814.9 L550.1,813.0 L552.4,811.1 L554.8,809.2 L557.2,807.3 L559.5,805.4 L561.9,803.4 L564.2,801.5 L566.5,799.5 L568.8,797.5 L571.1,795.5 L573.3,793.4 L575.6,791.4 L577.8,789.3 L580.1,787.3 L582.3,785.2 L584.5,783.1 L586.7,781.0 L588.9,778.8 L591.0,776.7 L593.2,774.5 L595.3,772.4 L597.4,770.2 L599.6,768.0 L601.7,765.8 L603.7,763.6 L605.8,761.3 L607.9,759.1 L609.9,756.8 L611.9,754.5 L614.0,752.2 L616.0,749.9 L618.0,747.6 L619.9,745.3 L621.9,743.0 L623.8,740.6 L625.8,738.3 L627.7,735.9 L629.6,733.5 L631.5,731.1 L633.4,728.7 L635.3,726.3 L637.1,723.9 L639.0,721.5 L640.8,719.0 L642.6,716.6 L644.4,714.1 L646.2,711.6 L648.0,709.1 L649.8,706.7 L651.5,704.2 L653.2,701.7 L655.0,699.1 L656.7,696.6 L658.4,694.1 L660.1,691.6 L661.8,689.0 L663.4,686.5 L665.1,683.9 L666.7,681.4 L668.3,678.8" fill="none" stroke="#1c6e1c" stroke-width="4.0" clip-path="url(#cb0)"/>
<path d="M904.7,917.5 L907.8,917.1 L910.8,916.6 L913.9,916.1 L917.0,915.6 L920.0,915.0 L923.0,914.5 L926.1,913.9 L929.1,913.2 L932.1,912.6 L935.0,911.9 L938.0,911.2 L941.0,910.5 L943.9,909.8 L946.9,909.0 L949.8,908.2 L952.8,907.4 L955.7,906.6 L958.6,905.7 L961.5,904.8 L964.4,904.0 L967.3,903.0 L970.2,902.1 L973.0,901.2 L975.9,900.2 L978.8,899.2 L981.6,898.2 L984.5,897.1 L987.3,896.1 L990.1,895.0 L993.0,893.9 L995.8,892.8 L998.6,891.7 L1001.4,890.6 L1004.2,889.4 L1007.0,888.2 L1009.8,887.0 L1012.6,885.8 L1015.3,884.6 L1018.1,883.4 L1020.9,882.1 L1023.6,880.8 L1026.4,879.5 L1029.1,878.2 L1031.8,876.9 L1034.6,875.5 L1037.3,874.2 L1040.0,872.8 L1042.7,871.4 L1045.4,870.0 L1048.1,868.6 L1050.8,867.2 L1053.5,865.7 L1056.2,864.3 L1058.8,862.8 L1061.5,861.3 L1064.2,859.8 L1066.8,858.2 L1069.4,856.7 L1072.1,855.2 L1074.7,853.6 L1077.3,852.0 L1079.9,850.4 L1082.5,848.8 L1085.1,847.2 L1087.7,845.5 L1090.3,843.8 L1092.8,842.2 L1095.4,840.5 L1097.9,838.8 L1100.4,837.1 L1103.0,835.3 L1105.5,833.6 L1108.0,831.8 L1110.5,830.0 L1112.9,828.2 L1115.4,826.4 L1117.8,824.6 L1120.3,822.7 L1122.7,820.9 L1125.1,819.0 L1127.5,817.1 L1129.9,815.2 L1132.3,813.3 L1134.6,811.3 L1136.9,809.4 L1139.3,807.4 L1141.6,805.4 L1143.8,803.4 L1146.1,801.3 L1148.4,799.3 L1150.6,797.2 L1152.8,795.1 L1155.0,793.0 L1157.2,790.9 L1159.3,788.8 L1161.5,786.6 L1163.6,784.4 L1165.7,782.2 L1167.7,780.0 L1169.8,777.8 L1171.8,775.5 L1173.8,773.2 L1175.8,770.9 L1177.7,768.6 L1179.6,766.3 L1181.5,763.9 L1183.4,761.5 L1185.2,759.1 L1187.1,756.7 L1188.8,754.2 L1190.6,751.7 L1192.3,749.2 L1194.0,746.7 L1195.7,744.2 L1197.3,741.6 L1198.9,739.0 L1200.5,736.3 L1202.0,733.7 L1203.5,731.0 L1204.9,728.3 L1206.3,725.6" fill="none" stroke="#1c6e1c" stroke-width="4.0" clip-path="url(#cb1)"/>
<path d="M1394.3,917.6 L1397.3,917.1 L1400.3,916.6 L1403.3,916.0 L1406.2,915.5 L1409.2,914.9 L1412.2,914.3 L1415.1,913.8 L1418.1,913.2 L1421.0,912.6 L1424.0,912.0 L1426.9,911.3 L1429.9,910.7 L1432.8,910.0 L1435.8,909.4 L1438.7,908.7 L1441.7,908.0 L1444.6,907.3 L1447.6,906.6 L1450.5,905.9 L1453.4,905.2 L1456.4,904.4 L1459.3,903.7 L1462.2,902.9 L1465.1,902.1 L1468.0,901.4 L1471.0,900.5 L1473.9,899.7 L1476.8,898.9 L1479.7,898.1 L1482.6,897.2 L1485.5,896.4 L1488.4,895.5 L1491.3,894.6 L1494.2,893.7 L1497.1,892.8 L1499.9,891.9 L1502.8,890.9 L1505.7,890.0 L1508.6,889.0 L1511.4,888.1 L1514.3,887.1 L1517.2,886.1 L1520.0,885.1 L1522.9,884.0 L1525.7,883.0 L1528.6,882.0 L1531.4,880.9 L1534.2,879.8 L1537.1,878.7 L1539.9,877.6 L1542.7,876.5 L1545.5,875.4 L1548.3,874.3 L1551.1,873.1 L1553.9,872.0 L1556.7,870.8 L1559.5,869.6 L1562.3,868.4 L1565.1,867.2 L1567.8,865.9 L1570.6,864.7 L1573.3,863.4 L1576.1,862.2 L1578.8,860.9 L1581.6,859.6 L1584.3,858.3 L1587.0,857.0 L1589.8,855.6 L1592.5,854.3 L1595.2,852.9 L1597.9,851.5 L1600.6,850.2 L1603.2,848.8 L1605.9,847.3 L1608.6,845.9 L1611.3,844.5 L1613.9,843.0 L1616.6,841.5 L1619.2,840.0 L1621.8,838.5 L1624.4,837.0 L1627.1,835.5 L1629.7,834.0 L1632.3,832.4 L1634.9,830.8 L1637.4,829.3 L1640.0,827.7 L1642.6,826.1 L1645.1,824.4 L1647.7,822.8 L1650.2,821.1 L1652.7,819.5 L1655.2,817.8 L1657.7,816.1 L1660.2,814.4 L1662.7,812.7 L1665.2,810.9 L1667.6,809.2 L1670.1,807.4 L1672.5,805.6 L1675.0,803.8 L1677.4,802.0 L1679.8,800.2 L1682.2,798.4 L1684.6,796.5 L1686.9,794.6 L1689.3,792.8 L1691.7,790.9 L1694.0,788.9 L1696.3,787.0 L1698.6,785.1 L1700.9,783.1 L1703.2,781.1 L1705.5,779.2 L1707.8,777.2 L1710.0,775.1 L1712.2,773.1 L1714.5,771.1 L1716.7,769.0 L1718.9,766.9 L1721.0,764.8 L1723.2,762.7 L1725.3,760.6 L1727.5,758.5 L1729.6,756.3 L1731.7,754.2 L1733.8,752.0 L1735.9,749.8 L1737.9,747.6 L1740.0,745.4 L1742.0,743.1 L1744.0,740.9 L1746.0,738.6 L1748.0,736.3 L1749.9,734.0 L1751.9,731.7 L1753.8,729.4 L1755.7,727.0 L1757.6,724.6 L1759.5,722.3 L1761.4,719.9 L1763.2,717.5 L1765.0,715.0 L1766.8,712.6 L1768.6,710.1 L1770.4,707.7 L1772.1,705.2 L1773.8,702.7 L1775.6,700.2 L1777.2,697.6 L1778.9,695.1 L1780.6,692.5" fill="none" stroke="#1c6e1c" stroke-width="4.0" clip-path="url(#cb2)"/>
<path d="M350.4,317.6 L352.0,320.2 L353.7,322.9 L355.4,325.5 L357.1,328.0 L358.8,330.6 L360.6,333.1 L362.4,335.6 L364.2,338.1 L366.0,340.5 L367.8,343.0 L369.7,345.4 L371.6,347.8 L373.5,350.2 L375.4,352.5 L377.4,354.8 L379.4,357.1 L381.3,359.4 L383.3,361.7 L385.4,364.0 L387.4,366.2 L389.5,368.4 L391.5,370.6 L393.6,372.8 L395.7,375.0 L397.9,377.1 L400.0,379.3 L402.2,381.4 L404.4,383.5 L406.5,385.6 L408.7,387.7 L411.0,389.7 L413.2,391.8 L415.5,393.8 L417.7,395.8 L420.0,397.8 L422.3,399.8 L424.6,401.8 L426.9,403.8 L429.3,405.7 L431.6,407.6 L434.0,409.6 L436.3,411.5 L438.7,413.4 L441.1,415.2 L443.5,417.1 L446.0,418.9 L448.4,420.8 L450.8,422.6 L453.3,424.4 L455.8,426.2 L458.3,428.0 L460.7,429.7 L463.3,431.5 L465.8,433.2 L468.3,434.9 L470.8,436.6 L473.4,438.3 L475.9,439.9 L478.5,441.6 L481.1,443.2 L483.7,444.8 L486.3,446.4 L488.9,448.0 L491.5,449.6 L494.2,451.1 L496.8,452.6 L499.5,454.2 L502.1,455.6 L504.8,457.1 L507.5,458.6 L510.2,460.0 L512.9,461.4 L515.6,462.8 L518.3,464.1 L521.1,465.5 L523.8,466.8 L526.6,468.1 L529.4,469.4 L532.1,470.6 L534.9,471.8 L537.7,473.0 L540.5,474.2 L543.4,475.3 L546.2,476.4 L549.0,477.5 L551.9,478.6 L554.7,479.6 L557.6,480.6 L560.5,481.5 L563.4,482.5 L566.3,483.4 L569.2,484.2 L572.1,485.1 L575.1,485.9 L578.0,486.6 L581.0,487.3 L584.0,488.0 L586.9,488.7" fill="none" stroke="#1c6e1c" stroke-width="4.0" stroke-dasharray="14.5,7" clip-path="url(#ct0)"/>
<path d="M838.0,116.3 L839.0,119.0 L839.9,121.8 L840.9,124.6 L841.9,127.4 L842.8,130.2 L843.8,133.0 L844.8,135.8 L845.8,138.6 L846.8,141.5 L847.8,144.3 L848.7,147.1 L849.8,149.9 L850.8,152.8 L851.8,155.6 L852.8,158.4 L853.8,161.3 L854.9,164.1 L855.9,167.0 L856.9,169.8 L858.0,172.6 L859.1,175.5 L860.1,178.3 L861.2,181.2 L862.3,184.0 L863.4,186.9 L864.5,189.7 L865.6,192.5 L866.8,195.4 L867.9,198.2 L869.0,201.0 L870.2,203.9 L871.4,206.7 L872.5,209.5 L873.7,212.3 L874.9,215.1 L876.1,218.0 L877.3,220.8 L878.6,223.6 L879.8,226.4 L881.1,229.2 L882.3,231.9 L883.6,234.7 L884.9,237.5 L886.2,240.3 L887.5,243.0 L888.8,245.8 L890.1,248.6 L891.5,251.3 L892.9,254.0 L894.2,256.8 L895.6,259.5 L897.0,262.2 L898.4,264.9 L899.9,267.6 L901.3,270.3 L902.8,273.0 L904.2,275.7 L905.7,278.3 L907.2,281.0 L908.7,283.6 L910.2,286.3 L911.8,288.9 L913.3,291.5 L914.9,294.1 L916.5,296.7 L918.1,299.3 L919.7,301.9 L921.3,304.4 L922.9,307.0 L924.6,309.5 L926.3,312.1 L927.9,314.6 L929.6,317.1 L931.4,319.6 L933.1,322.1 L934.8,324.6 L936.6,327.0 L938.4,329.5 L940.1,331.9 L941.9,334.3 L943.8,336.7 L945.6,339.1 L947.5,341.5 L949.3,343.9 L951.2,346.3 L953.1,348.6 L955.0,350.9 L956.9,353.3 L958.9,355.6 L960.8,357.9 L962.8,360.1 L964.8,362.4 L966.8,364.6 L968.8,366.9 L970.8,369.1 L972.9,371.3 L974.9,373.5 L977.0,375.7 L979.1,377.8 L981.2,380.0 L983.3,382.1 L985.5,384.2 L987.6,386.3 L989.8,388.4 L992.0,390.5 L994.2,392.6 L996.4,394.6 L998.6,396.6 L1000.9,398.6 L1003.1,400.6 L1005.4,402.6 L1007.7,404.6 L1010.0,406.5 L1012.3,408.5 L1014.6,410.4 L1016.9,412.3 L1019.3,414.2 L1021.7,416.0 L1024.0,417.9 L1026.4,419.7 L1028.8,421.6 L1031.3,423.4 L1033.7,425.2 L1036.1,426.9 L1038.6,428.7 L1041.1,430.4 L1043.5,432.2 L1046.0,433.9 L1048.6,435.6 L1051.1,437.3 L1053.6,438.9 L1056.1,440.6 L1058.7,442.2 L1061.3,443.8 L1063.9,445.4 L1066.4,447.0 L1069.0,448.6 L1071.7,450.1 L1074.3,451.7 L1076.9,453.2 L1079.6,454.7 L1082.2,456.2 L1084.9,457.7 L1087.6,459.1 L1090.2,460.6 L1092.9,462.0 L1095.6,463.4 L1098.3,464.8 L1101.1,466.2 L1103.8,467.6 L1106.5,468.9 L1109.3,470.3 L1112.0,471.6 L1114.8,472.9 L1117.6,474.2 L1120.3,475.4 L1123.1,476.7 L1125.9,478.0 L1128.7,479.2 L1131.5,480.4 L1134.3,481.6 L1137.1,482.8 L1139.9,484.0 L1142.8,485.1" fill="none" stroke="#1c6e1c" stroke-width="4.0" stroke-dasharray="14.5,7" clip-path="url(#ct1)"/>
<path d="M1318.2,106.9 L1319.2,109.8 L1320.3,112.6 L1321.3,115.4 L1322.3,118.2 L1323.4,121.0 L1324.4,123.8 L1325.4,126.7 L1326.5,129.5 L1327.5,132.3 L1328.6,135.1 L1329.7,137.9 L1330.7,140.8 L1331.8,143.6 L1332.9,146.4 L1334.0,149.2 L1335.1,152.1 L1336.2,154.9 L1337.3,157.7 L1338.4,160.5 L1339.5,163.3 L1340.6,166.1 L1341.8,169.0 L1342.9,171.8 L1344.1,174.6 L1345.2,177.4 L1346.4,180.2 L1347.6,183.0 L1348.8,185.8 L1350.0,188.6 L1351.2,191.3 L1352.4,194.1 L1353.6,196.9 L1354.9,199.7 L1356.1,202.4 L1357.4,205.2 L1358.7,207.9 L1359.9,210.7 L1361.2,213.4 L1362.5,216.2 L1363.9,218.9 L1365.2,221.6 L1366.5,224.4 L1367.9,227.1 L1369.3,229.8 L1370.6,232.5 L1372.0,235.2 L1373.4,237.8 L1374.8,240.5 L1376.3,243.2 L1377.7,245.9 L1379.2,248.5 L1380.6,251.1 L1382.1,253.8 L1383.6,256.4 L1385.1,259.0 L1386.7,261.6 L1388.2,264.2 L1389.8,266.8 L1391.3,269.4 L1392.9,272.0 L1394.5,274.5 L1396.1,277.1 L1397.7,279.6 L1399.4,282.1 L1401.0,284.7 L1402.7,287.2 L1404.4,289.7 L1406.1,292.2 L1407.8,294.6 L1409.5,297.1 L1411.2,299.6 L1413.0,302.0 L1414.8,304.4 L1416.6,306.8 L1418.4,309.2 L1420.2,311.6 L1422.0,314.0 L1423.9,316.4 L1425.7,318.8 L1427.6,321.1 L1429.5,323.4 L1431.4,325.8 L1433.3,328.1 L1435.3,330.4 L1437.2,332.6 L1439.2,334.9 L1441.2,337.2 L1443.2,339.4 L1445.2,341.6 L1447.2,343.9 L1449.2,346.1 L1451.3,348.3 L1453.4,350.4 L1455.5,352.6 L1457.6,354.7 L1459.7,356.9 L1461.8,359.0 L1464.0,361.1 L1466.1,363.2 L1468.3,365.3 L1470.5,367.3 L1472.7,369.4 L1474.9,371.4 L1477.2,373.4 L1479.4,375.4 L1481.7,377.4 L1484.0,379.4 L1486.3,381.4 L1488.6,383.3 L1490.9,385.3 L1493.2,387.2 L1495.6,389.1 L1497.9,391.0 L1500.3,392.8 L1502.7,394.7 L1505.1,396.5 L1507.5,398.4 L1509.9,400.2 L1512.4,402.0 L1514.8,403.7 L1517.3,405.5 L1519.8,407.3 L1522.2,409.0 L1524.7,410.7 L1527.3,412.4 L1529.8,414.1 L1532.3,415.8 L1534.9,417.5 L1537.4,419.1 L1540.0,420.7 L1542.6,422.3 L1545.2,423.9 L1547.8,425.5 L1550.4,427.1 L1553.0,428.6 L1555.6,430.2 L1558.3,431.7 L1560.9,433.2 L1563.6,434.7 L1566.2,436.2 L1568.9,437.6 L1571.6,439.1 L1574.3,440.5 L1577.0,441.9 L1579.7,443.3 L1582.4,444.7 L1585.1,446.1 L1587.8,447.4 L1590.6,448.7 L1593.3,450.1 L1596.1,451.4 L1598.8,452.7 L1601.6,453.9 L1604.3,455.2 L1607.1,456.5 L1609.9,457.7 L1612.7,458.9 L1615.5,460.1 L1618.2,461.3 L1621.0,462.5 L1623.8,463.6 L1626.6,464.8 L1629.4,465.9 L1632.2,467.0 L1635.0,468.1 L1637.8,469.2 L1640.7,470.3 L1643.5,471.3 L1646.3,472.4 L1649.1,473.4 L1651.9,474.4 L1654.7,475.4 L1657.5,476.4 L1660.3,477.4 L1663.1,478.3 L1665.9,479.3 L1668.7,480.2 L1671.5,481.1 L1674.3,482.1 L1677.1,482.9 L1679.9,483.8 L1682.7,484.7" fill="none" stroke="#1c6e1c" stroke-width="4.0" stroke-dasharray="14.5,7" clip-path="url(#ct2)"/>
<path d="M354.8,875.8 L357.7,874.6 L360.6,873.4 L363.4,872.2 L366.2,870.9 L369.0,869.6 L371.8,868.2 L374.5,866.8 L377.2,865.3 L379.9,863.9 L382.5,862.4 L385.2,860.8 L387.8,859.3 L390.3,857.7 L392.9,856.1 L395.4,854.4 L398.0,852.7 L400.5,851.0 L403.0,849.3 L405.4,847.5 L407.9,845.8 L410.3,844.0 L412.7,842.1 L415.1,840.3 L417.5,838.4 L419.8,836.5 L422.2,834.6 L424.5,832.7 L426.8,830.7 L429.1,828.8 L431.4,826.8 L433.7,824.8 L436.0,822.8 L438.2,820.8 L440.5,818.7 L442.7,816.7 L444.9,814.6 L447.2,812.5 L449.4,810.4 L451.6,808.3 L453.7,806.2 L455.9,804.0 L458.1,801.9 L460.2,799.7 L462.4,797.6 L464.5,795.4 L466.6,793.2 L468.8,791.0 L470.9,788.8 L473.0,786.6 L475.1,784.4 L477.2,782.2 L479.3,779.9 L481.3,777.7 L483.4,775.4 L485.5,773.2 L487.5,770.9 L489.6,768.6 L491.6,766.4 L493.6,764.1 L495.7,761.8 L497.7,759.5 L499.7,757.2 L501.7,754.9 L503.7,752.6 L505.7,750.3 L507.7,748.0 L509.6,745.6 L511.6,743.3 L513.6,741.0 L515.5,738.6 L517.5,736.3 L519.4,733.9 L521.3,731.6 L523.2,729.2 L525.1,726.8 L527.0,724.4 L528.9,722.1 L530.8,719.7 L532.7,717.3 L534.5,714.9 L536.4,712.5 L538.2,710.1 L540.1,707.6 L541.9,705.2 L543.7,702.8 L545.5,700.3 L547.3,697.9 L549.0,695.4 L550.8,693.0 L552.5,690.5 L554.3,688.0 L556.0,685.5 L557.7,683.0 L559.3,680.5 L561.0,677.9 L562.6,675.4 L564.3,672.8 L565.9,670.3 L567.5,667.7 L569.1,665.1 L570.6,662.5 L572.1,659.9 L573.7,657.3 L575.2,654.6 L576.6,652.0 L578.1,649.3 L579.5,646.6 L580.9,643.9 L582.3,641.2 L583.6,638.4 L584.9,635.6 L586.2,632.8 L587.5,630.0 L588.8,627.2 L590.0,624.4 L591.1,621.5" fill="none" stroke="#1c6e1c" stroke-width="4.0" stroke-dasharray="14.5,7" clip-path="url(#cb0)"/>
<path d="M835.1,914.9 L837.9,914.1 L840.7,913.2 L843.6,912.3 L846.5,911.4 L849.3,910.5 L852.2,909.6 L855.1,908.7 L857.9,907.8 L860.8,906.8 L863.7,905.9 L866.5,905.0 L869.4,904.0 L872.3,903.1 L875.2,902.1 L878.1,901.2 L880.9,900.2 L883.8,899.2 L886.7,898.2 L889.5,897.2 L892.4,896.2 L895.3,895.2 L898.1,894.1 L901.0,893.1 L903.9,892.0 L906.7,891.0 L909.6,889.9 L912.4,888.8 L915.2,887.7 L918.1,886.5 L920.9,885.4 L923.7,884.3 L926.5,883.1 L929.3,881.9 L932.1,880.7 L934.9,879.5 L937.7,878.3 L940.5,877.0 L943.3,875.8 L946.0,874.5 L948.8,873.2 L951.5,871.9 L954.3,870.6 L957.0,869.2 L959.7,867.9 L962.4,866.5 L965.1,865.1 L967.8,863.7 L970.5,862.3 L973.2,860.8 L975.8,859.4 L978.5,857.9 L981.1,856.4 L983.7,854.9 L986.3,853.3 L988.9,851.8 L991.5,850.2 L994.1,848.6 L996.7,847.0 L999.2,845.4 L1001.8,843.7 L1004.3,842.1 L1006.8,840.4 L1009.3,838.7 L1011.8,837.0 L1014.3,835.2 L1016.8,833.5 L1019.2,831.7 L1021.6,829.9 L1024.1,828.1 L1026.5,826.3 L1028.9,824.4 L1031.3,822.6 L1033.6,820.7 L1036.0,818.8 L1038.3,816.8 L1040.7,814.9 L1043.0,813.0 L1045.3,811.0 L1047.6,809.0 L1049.8,807.0 L1052.1,805.0 L1054.3,802.9 L1056.6,800.9 L1058.8,798.8 L1061.0,796.7 L1063.2,794.6 L1065.3,792.5 L1067.5,790.3 L1069.6,788.2 L1071.8,786.0 L1073.9,783.8 L1076.0,781.6 L1078.1,779.4 L1080.1,777.1 L1082.2,774.9 L1084.2,772.6 L1086.3,770.4 L1088.3,768.1 L1090.3,765.8 L1092.3,763.5 L1094.2,761.1 L1096.2,758.8 L1098.1,756.5 L1100.1,754.1 L1102.0,751.7 L1103.9,749.4 L1105.8,747.0 L1107.7,744.6 L1109.5,742.1 L1111.4,739.7 L1113.2,737.3 L1115.0,734.9 L1116.9,732.4 L1118.7,730.0 L1120.4,727.5 L1122.2,725.0 L1124.0,722.6 L1125.7,720.1 L1127.5,717.6 L1129.2,715.1 L1130.9,712.6 L1132.6,710.1 L1134.3,707.6 L1136.0,705.1 L1137.7,702.6 L1139.3,700.1 L1141.0,697.6 L1142.6,695.1 L1144.3,692.6 L1145.9,690.1 L1147.5,687.6" fill="none" stroke="#1c6e1c" stroke-width="4.0" stroke-dasharray="14.5,7" clip-path="url(#cb1)"/>
<path d="M1313.9,913.8 L1316.9,913.1 L1319.9,912.4 L1322.8,911.7 L1325.8,911.0 L1328.8,910.2 L1331.7,909.5 L1334.7,908.7 L1337.6,907.9 L1340.6,907.1 L1343.5,906.3 L1346.4,905.5 L1349.4,904.7 L1352.3,903.9 L1355.2,903.0 L1358.1,902.2 L1361.0,901.3 L1363.9,900.4 L1366.8,899.6 L1369.7,898.7 L1372.6,897.8 L1375.5,896.8 L1378.4,895.9 L1381.3,895.0 L1384.2,894.0 L1387.0,893.1 L1389.9,892.1 L1392.8,891.1 L1395.6,890.1 L1398.5,889.1 L1401.3,888.1 L1404.2,887.0 L1407.0,886.0 L1409.9,884.9 L1412.7,883.9 L1415.5,882.8 L1418.4,881.7 L1421.2,880.6 L1424.0,879.5 L1426.8,878.4 L1429.6,877.2 L1432.4,876.1 L1435.2,874.9 L1438.0,873.8 L1440.8,872.6 L1443.6,871.4 L1446.4,870.2 L1449.1,869.0 L1451.9,867.7 L1454.7,866.5 L1457.4,865.2 L1460.2,864.0 L1462.9,862.7 L1465.7,861.4 L1468.4,860.1 L1471.2,858.8 L1473.9,857.5 L1476.6,856.1 L1479.3,854.8 L1482.0,853.4 L1484.7,852.0 L1487.4,850.6 L1490.1,849.2 L1492.8,847.8 L1495.5,846.4 L1498.2,844.9 L1500.8,843.5 L1503.5,842.0 L1506.1,840.6 L1508.8,839.1 L1511.4,837.6 L1514.1,836.0 L1516.7,834.5 L1519.3,833.0 L1521.9,831.4 L1524.5,829.9 L1527.1,828.3 L1529.7,826.7 L1532.3,825.1 L1534.9,823.5 L1537.4,821.8 L1540.0,820.2 L1542.5,818.5 L1545.1,816.9 L1547.6,815.2 L1550.1,813.5 L1552.7,811.8 L1555.2,810.1 L1557.7,808.3 L1560.1,806.6 L1562.6,804.8 L1565.1,803.0 L1567.6,801.2 L1570.0,799.4 L1572.4,797.6 L1574.9,795.8 L1577.3,794.0 L1579.7,792.1 L1582.1,790.2 L1584.5,788.3 L1586.9,786.4 L1589.2,784.5 L1591.6,782.6 L1593.9,780.7 L1596.3,778.7 L1598.6,776.8 L1600.9,774.8 L1603.2,772.8 L1605.5,770.8 L1607.7,768.8 L1610.0,766.7 L1612.2,764.7 L1614.5,762.6 L1616.7,760.6 L1618.9,758.5 L1621.1,756.4 L1623.3,754.2 L1625.4,752.1 L1627.6,750.0 L1629.7,747.8 L1631.8,745.6 L1633.9,743.5 L1636.0,741.3 L1638.1,739.0 L1640.2,736.8 L1642.2,734.6 L1644.2,732.3 L1646.2,730.0 L1648.2,727.8 L1650.2,725.5 L1652.2,723.1 L1654.1,720.8 L1656.0,718.5 L1657.9,716.1 L1659.8,713.7 L1661.7,711.4 L1663.6,709.0 L1665.4,706.5 L1667.2,704.1 L1669.0,701.7 L1670.8,699.2 L1672.5,696.7 L1674.3,694.2 L1676.0,691.7 L1677.7,689.2 L1679.4,686.7 L1681.0,684.1 L1682.7,681.6 L1684.3,679.0" fill="none" stroke="#1c6e1c" stroke-width="4.0" stroke-dasharray="14.5,7" clip-path="url(#cb2)"/>
<line x1="359.85" y1="551.2" x2="1799.5" y2="551.2" stroke="#000" stroke-width="3.3" stroke-dasharray="3.3,7.1"/>
<polygon points="591.2,611.1 594.0,617.8 601.2,618.4 595.7,623.1 597.4,630.1 591.2,626.3 585.0,630.1 586.7,623.1 581.2,618.4 588.4,617.8" fill="#1a761a"/>
<polygon points="772.9,511.7 775.7,518.4 782.9,519.0 777.4,523.7 779.1,530.7 772.9,526.9 766.7,530.7 768.4,523.7 762.9,519.0 770.1,518.4" fill="#000000"/>
<polygon points="707.1,624.9 709.9,631.6 717.1,632.2 711.6,636.9 713.3,643.9 707.1,640.1 700.9,643.9 702.6,636.9 697.1,632.2 704.3,631.6" fill="#0a0ae8"/>
<polygon points="668.5,668.4 671.3,675.1 678.5,675.7 673.0,680.4 674.7,687.4 668.5,683.6 662.3,687.4 664.0,680.4 658.5,675.7 665.7,675.1" fill="#1a761a"/>
<polygon points="821.7,581.4 824.5,588.1 831.7,588.7 826.2,593.4 827.9,600.4 821.7,596.6 815.5,600.4 817.2,593.4 811.7,588.7 818.9,588.1" fill="#000000"/>
<polygon points="802.2,608.9 805.0,615.6 812.2,616.2 806.7,620.9 808.4,627.9 802.2,624.1 796.0,627.9 797.7,620.9 792.2,616.2 799.4,615.6" fill="#ec0c0c"/>
<polygon points="783.1,642.9 785.9,649.6 793.1,650.2 787.6,654.9 789.3,661.9 783.1,658.1 776.9,661.9 778.6,654.9 773.1,650.2 780.3,649.6" fill="#0a0ae8"/>
<polygon points="821.7,698.0 824.5,704.7 831.7,705.3 826.2,710.0 827.9,717.0 821.7,713.2 815.5,717.0 817.2,710.0 811.7,705.3 818.9,704.7" fill="#ec0c0c"/>
<polygon points="1187.3,530.0 1190.1,536.7 1197.3,537.3 1191.8,542.0 1193.5,549.0 1187.3,545.2 1181.1,549.0 1182.8,542.0 1177.3,537.3 1184.5,536.7" fill="#000000"/>
<polygon points="1147.2,676.8 1150.0,683.5 1157.2,684.1 1151.7,688.8 1153.4,695.8 1147.2,692.0 1141.0,695.8 1142.7,688.8 1137.2,684.1 1144.4,683.5" fill="#1a761a"/>
<polygon points="1205.1,665.2 1207.9,671.9 1215.1,672.5 1209.6,677.2 1211.3,684.2 1205.1,680.4 1198.9,684.2 1200.6,677.2 1195.1,672.5 1202.3,671.9" fill="#0a0ae8"/>
<polygon points="1262.0,572.9 1264.8,579.6 1272.0,580.2 1266.5,584.9 1268.2,591.9 1262.0,588.1 1255.8,591.9 1257.5,584.9 1252.0,580.2 1259.2,579.6" fill="#000000"/>
<polygon points="1262.0,595.1 1264.8,601.8 1272.0,602.4 1266.5,607.1 1268.2,614.1 1262.0,610.3 1255.8,614.1 1257.5,607.1 1252.0,602.4 1259.2,601.8" fill="#ec0c0c"/>
<polygon points="1262.0,629.1 1264.8,635.8 1272.0,636.4 1266.5,641.1 1268.2,648.1 1262.0,644.3 1255.8,648.1 1257.5,641.1 1252.0,636.4 1259.2,635.8" fill="#ec0c0c"/>
<polygon points="1263.5,651.4 1266.3,658.1 1273.5,658.7 1268.0,663.4 1269.7,670.4 1263.5,666.6 1257.3,670.4 1259.0,663.4 1253.5,658.7 1260.7,658.1" fill="#0a0ae8"/>
<polygon points="1206.2,715.0 1209.0,721.7 1216.2,722.3 1210.7,727.0 1212.4,734.0 1206.2,730.2 1200.0,734.0 1201.7,727.0 1196.2,722.3 1203.4,721.7" fill="#1a761a"/>
<polygon points="1741.4,582.4 1744.2,589.1 1751.4,589.7 1745.9,594.4 1747.6,601.4 1741.4,597.6 1735.2,601.4 1736.9,594.4 1731.4,589.7 1738.6,589.1" fill="#ec0c0c"/>
<polygon points="1684.1,668.4 1686.9,675.1 1694.1,675.7 1688.6,680.4 1690.3,687.4 1684.1,683.6 1677.9,687.4 1679.6,680.4 1674.1,675.7 1681.3,675.1" fill="#1a761a"/>
<polygon points="1780.7,645.0 1783.5,651.7 1790.7,652.3 1785.2,657.0 1786.9,664.0 1780.7,660.2 1774.5,664.0 1776.2,657.0 1770.7,652.3 1777.9,651.7" fill="#0a0ae8"/>
<polygon points="1780.7,682.2 1783.5,688.9 1790.7,689.5 1785.2,694.2 1786.9,701.2 1780.7,697.4 1774.5,701.2 1776.2,694.2 1770.7,689.5 1777.9,688.9" fill="#1a761a"/>
<rect x="361.5" y="61.6" width="479.5" height="428.4" fill="none" stroke="#000" stroke-width="2.3"/>
<rect x="361.5" y="490.0" width="479.5" height="428.6" fill="none" stroke="#000" stroke-width="2.3"/>
<rect x="841.0" y="61.6" width="479.5" height="428.4" fill="none" stroke="#000" stroke-width="2.3"/>
<rect x="841.0" y="490.0" width="479.5" height="428.6" fill="none" stroke="#000" stroke-width="2.3"/>
<rect x="1320.5" y="61.6" width="479.0" height="428.4" fill="none" stroke="#000" stroke-width="2.3"/>
<rect x="1320.5" y="490.0" width="479.0" height="428.6" fill="none" stroke="#000" stroke-width="2.3"/>
<path d="M441.4,61.6v12.5M441.4,490.0v12.5M521.3,61.6v12.5M521.3,490.0v-12.5M521.3,490.0v12.5M521.3,918.6v-12.5M601.2,61.6v12.5M601.2,490.0v12.5M681.2,61.6v12.5M681.2,490.0v-12.5M681.2,490.0v12.5M681.2,918.6v-12.5M761.1,61.6v12.5M761.1,490.0v12.5M361.5,404.3h12.5M841.0,404.3h-12.5M361.5,318.6h12.5M841.0,318.6h-12.5M361.5,233.0h12.5M841.0,233.0h-12.5M361.5,147.3h12.5M841.0,147.3h-12.5M361.5,857.4h12.5M841.0,857.4h-12.5M361.5,796.1h12.5M841.0,796.1h-12.5M361.5,734.9h12.5M841.0,734.9h-12.5M361.5,673.7h12.5M841.0,673.7h-12.5M361.5,612.5h12.5M841.0,612.5h-12.5M361.5,551.2h12.5M841.0,551.2h-12.5M920.9,61.6v12.5M920.9,490.0v12.5M1000.8,61.6v12.5M1000.8,490.0v-12.5M1000.8,490.0v12.5M1000.8,918.6v-12.5M1080.8,61.6v12.5M1080.8,490.0v12.5M1160.7,61.6v12.5M1160.7,490.0v-12.5M1160.7,490.0v12.5M1160.7,918.6v-12.5M1240.6,61.6v12.5M1240.6,490.0v12.5M841.0,404.3h12.5M1320.5,404.3h-12.5M841.0,318.6h12.5M1320.5,318.6h-12.5M841.0,233.0h12.5M1320.5,233.0h-12.5M841.0,147.3h12.5M1320.5,147.3h-12.5M841.0,857.4h12.5M1320.5,857.4h-12.5M841.0,796.1h12.5M1320.5,796.1h-12.5M841.0,734.9h12.5M1320.5,734.9h-12.5M841.0,673.7h12.5M1320.5,673.7h-12.5M841.0,612.5h12.5M1320.5,612.5h-12.5M841.0,551.2h12.5M1320.5,551.2h-12.5M1400.3,61.6v12.5M1400.3,490.0v12.5M1480.2,61.6v12.5M1480.2,490.0v-12.5M1480.2,490.0v12.5M1480.2,918.6v-12.5M1560.0,61.6v12.5M1560.0,490.0v12.5M1639.8,61.6v12.5M1639.8,490.0v-12.5M1639.8,490.0v12.5M1639.8,918.6v-12.5M1719.7,61.6v12.5M1719.7,490.0v12.5M1320.5,404.3h12.5M1799.5,404.3h-12.5M1320.5,318.6h12.5M1799.5,318.6h-12.5M1320.5,233.0h12.5M1799.5,233.0h-12.5M1320.5,147.3h12.5M1799.5,147.3h-12.5M1320.5,857.4h12.5M1799.5,857.4h-12.5M1320.5,796.1h12.5M1799.5,796.1h-12.5M1320.5,734.9h12.5M1799.5,734.9h-12.5M1320.5,673.7h12.5M1799.5,673.7h-12.5M1320.5,612.5h12.5M1799.5,612.5h-12.5M1320.5,551.2h12.5M1799.5,551.2h-12.5" stroke="#000" stroke-width="2.3" fill="none"/>
<text transform="translate(352.0,419.2) scale(1.03,1)" font-size="41" text-anchor="end" stroke="#000" stroke-width="0.5">0.2</text>
<text transform="translate(352.0,333.5) scale(1.03,1)" font-size="41" text-anchor="end" stroke="#000" stroke-width="0.5">0.4</text>
<text transform="translate(352.0,247.9) scale(1.03,1)" font-size="41" text-anchor="end" stroke="#000" stroke-width="0.5">0.6</text>
<text transform="translate(352.0,162.2) scale(1.03,1)" font-size="41" text-anchor="end" stroke="#000" stroke-width="0.5">0.8</text>
<text transform="translate(352.0,76.5) scale(1.03,1)" font-size="41" text-anchor="end" stroke="#000" stroke-width="0.5">1.0</text>
<text transform="translate(352.0,933.5) scale(1.03,1)" font-size="41" text-anchor="end" stroke="#000" stroke-width="0.5">0</text>
<text transform="translate(352.0,872.3) scale(1.03,1)" font-size="41" text-anchor="end" stroke="#000" stroke-width="0.5">2</text>
<text transform="translate(352.0,811.0) scale(1.03,1)" font-size="41" text-anchor="end" stroke="#000" stroke-width="0.5">4</text>
<text transform="translate(352.0,749.8) scale(1.03,1)" font-size="41" text-anchor="end" stroke="#000" stroke-width="0.5">6</text>
<text transform="translate(352.0,688.6) scale(1.03,1)" font-size="41" text-anchor="end" stroke="#000" stroke-width="0.5">8</text>
<text transform="translate(352.0,627.4) scale(1.03,1)" font-size="41" text-anchor="end" stroke="#000" stroke-width="0.5">10</text>
<text transform="translate(352.0,566.1) scale(1.03,1)" font-size="41" text-anchor="end" stroke="#000" stroke-width="0.5">12</text>
<text transform="translate(352.0,504.9) scale(1.03,1)" font-size="41" text-anchor="end" stroke="#000" stroke-width="0.5">14</text>
<text transform="translate(361.5,956.7) scale(1.03,1)" font-size="41" text-anchor="middle" stroke="#000" stroke-width="0.5">1.0</text>
<text transform="translate(521.3,956.7) scale(1.03,1)" font-size="41" text-anchor="middle" stroke="#000" stroke-width="0.5">1.5</text>
<text transform="translate(681.2,956.7) scale(1.03,1)" font-size="41" text-anchor="middle" stroke="#000" stroke-width="0.5">2.0</text>
<text transform="translate(841.0,956.7) scale(1.03,1)" font-size="41" text-anchor="middle" stroke="#000" stroke-width="0.5">2.5</text>
<text transform="translate(1000.8,956.7) scale(1.03,1)" font-size="41" text-anchor="middle" stroke="#000" stroke-width="0.5">1.5</text>
<text transform="translate(1160.7,956.7) scale(1.03,1)" font-size="41" text-anchor="middle" stroke="#000" stroke-width="0.5">2.0</text>
<text transform="translate(1320.5,956.7) scale(1.03,1)" font-size="41" text-anchor="middle" stroke="#000" stroke-width="0.5">2.5</text>
<text transform="translate(1480.2,956.7) scale(1.03,1)" font-size="41" text-anchor="middle" stroke="#000" stroke-width="0.5">1.5</text>
<text transform="translate(1639.8,956.7) scale(1.03,1)" font-size="41" text-anchor="middle" stroke="#000" stroke-width="0.5">2.0</text>
<text transform="translate(1799.5,956.7) scale(1.03,1)" font-size="41" text-anchor="middle" stroke="#000" stroke-width="0.5">2.5</text>
<text transform="translate(587.2,1004.5) scale(1.0,1)" font-size="39.5" text-anchor="middle" stroke="#000" stroke-width="0.4" font-style="italic">M/M</text>
<circle cx="639.9" cy="1002.5" r="7.9" fill="none" stroke="#000" stroke-width="2.5"/><circle cx="639.9" cy="1002.5" r="2" fill="#000"/>
<text transform="translate(1066.8,1004.5) scale(1.0,1)" font-size="39.5" text-anchor="middle" stroke="#000" stroke-width="0.4" font-style="italic">M/M</text>
<circle cx="1119.3" cy="1002.5" r="7.9" fill="none" stroke="#000" stroke-width="2.5"/><circle cx="1119.3" cy="1002.5" r="2" fill="#000"/>
<text transform="translate(1546.0,1004.5) scale(1.0,1)" font-size="39.5" text-anchor="middle" stroke="#000" stroke-width="0.4" font-style="italic">M/M</text>
<circle cx="1598.6" cy="1002.5" r="7.9" fill="none" stroke="#000" stroke-width="2.5"/><circle cx="1598.6" cy="1002.5" r="2" fill="#000"/>
<text transform="translate(601.2,46.3) scale(0.985,1)" font-size="32.4" text-anchor="middle" stroke="#000" stroke-width="0.3">DD-ME2</text>
<text transform="translate(1080.8,46.3) scale(0.985,1)" font-size="32.4" text-anchor="middle" stroke="#000" stroke-width="0.3">PKDD</text>
<text transform="translate(1560.0,46.3) scale(0.985,1)" font-size="32.4" text-anchor="middle" stroke="#000" stroke-width="0.3">NL3</text>
<g transform="translate(267.8,300) rotate(-90)" stroke="#000" stroke-width="0.4"><text x="0" y="0" font-size="41">Y</text><text x="24" y="5.7" font-size="28">gl</text></g>
<g transform="translate(279.3,773) rotate(-90)" stroke="#000" stroke-width="0.4"><text transform="translate(-1.4,0) scale(0.93,1)" font-size="40">Δ</text><text transform="translate(26.9,0) scale(0.91,1)" font-size="40">Ω</text><text transform="translate(52.9,6.8) scale(1.0,1)" font-size="27.8">p</text><text transform="translate(67.7,0) scale(1.3,1)" font-size="40">/</text><text transform="translate(87.6,0) scale(0.94,1)" font-size="40">Ω</text><text transform="translate(116.6,6.8) scale(1.0,1)" font-size="27.8">p</text></g>
<rect x="239" y="725.2" width="3.6" height="3.6" fill="#000"/><rect x="239" y="663.7" width="3.6" height="3.6" fill="#000"/>
<rect x="1085.5" y="77.5" width="218.6" height="106.7" rx="6" ry="6" fill="#fff" fill-opacity="1" stroke="#cccccc" stroke-width="2"/>
<line x1="1095.6" y1="104.3" x2="1161.1" y2="104.3" stroke="#000000" stroke-width="4.5"/>
<text transform="translate(1185.5,113.3) scale(1.0,1)" font-size="31" stroke="#000" stroke-width="0.35" font-style="italic">β</text>
<text transform="translate(1211.5,113.3) scale(1.19,1)" font-size="31" stroke="#000" stroke-width="0.35">=</text>
<text transform="translate(1242.1,113.3) scale(1.1,1)" font-size="31" stroke="#000" stroke-width="0.35">2.0</text>
<line x1="1095.6" y1="153.1" x2="1161.1" y2="153.1" stroke="#000000" stroke-width="4.5" stroke-dasharray="14.5,7"/>
<text transform="translate(1185.5,162.6) scale(1.0,1)" font-size="31" stroke="#000" stroke-width="0.35" font-style="italic">β</text>
<text transform="translate(1211.5,162.6) scale(1.19,1)" font-size="31" stroke="#000" stroke-width="0.35">=</text>
<text transform="translate(1242.1,162.6) scale(1.1,1)" font-size="31" stroke="#000" stroke-width="0.35">3.0</text>
<rect x="1335.9" y="505.9" width="299.5" height="195.1" rx="6" ry="6" fill="#fff" fill-opacity="0.8" stroke="#cccccc" stroke-width="2"/>
<line x1="1345.9" y1="530.3" x2="1411.8" y2="530.3" stroke="#000000" stroke-width="4.5"/>
<text transform="translate(1434.1,541.3) scale(1.0,1)" font-size="31" stroke="#000" stroke-width="0.35" font-style="italic">L</text>
<text transform="translate(1451.1,546.3) scale(1.0,1)" font-size="23.5" stroke="#000" stroke-width="0.35">0</text>
<text transform="translate(1474.4,541.3) scale(1.19,1)" font-size="31" stroke="#000" stroke-width="0.35">=</text>
<text transform="translate(1505.3,541.3) scale(1.06,1)" font-size="31" stroke="#000" stroke-width="0.35">30</text>
<text transform="translate(1553.5,541.3) scale(1.03,1)" font-size="31" stroke="#000" stroke-width="0.35">MeV</text>
<line x1="1345.9" y1="577.0999999999999" x2="1411.8" y2="577.0999999999999" stroke="#cc2024" stroke-width="4.5"/>
<text transform="translate(1434.1,588.1) scale(1.0,1)" font-size="31" stroke="#000" stroke-width="0.35" font-style="italic">L</text>
<text transform="translate(1451.1,593.1) scale(1.0,1)" font-size="23.5" stroke="#000" stroke-width="0.35">0</text>
<text transform="translate(1474.4,588.1) scale(1.19,1)" font-size="31" stroke="#000" stroke-width="0.35">=</text>
<text transform="translate(1505.3,588.1) scale(1.06,1)" font-size="31" stroke="#000" stroke-width="0.35">40</text>
<text transform="translate(1553.5,588.1) scale(1.03,1)" font-size="31" stroke="#000" stroke-width="0.35">MeV</text>
<line x1="1345.9" y1="623.9" x2="1411.8" y2="623.9" stroke="#0c0c9e" stroke-width="4.5"/>
<text transform="translate(1434.1,634.9) scale(1.0,1)" font-size="31" stroke="#000" stroke-width="0.35" font-style="italic">L</text>
<text transform="translate(1451.1,639.9) scale(1.0,1)" font-size="23.5" stroke="#000" stroke-width="0.35">0</text>
<text transform="translate(1474.4,634.9) scale(1.19,1)" font-size="31" stroke="#000" stroke-width="0.35">=</text>
<text transform="translate(1505.3,634.9) scale(1.06,1)" font-size="31" stroke="#000" stroke-width="0.35">60</text>
<text transform="translate(1553.5,634.9) scale(1.03,1)" font-size="31" stroke="#000" stroke-width="0.35">MeV</text>
<line x1="1345.9" y1="670.6999999999999" x2="1411.8" y2="670.6999999999999" stroke="#1c6e1c" stroke-width="4.5"/>
<text transform="translate(1434.1,681.7) scale(1.0,1)" font-size="31" stroke="#000" stroke-width="0.35" font-style="italic">L</text>
<text transform="translate(1451.1,686.7) scale(1.0,1)" font-size="23.5" stroke="#000" stroke-width="0.35">0</text>
<text transform="translate(1474.4,681.7) scale(1.19,1)" font-size="31" stroke="#000" stroke-width="0.35">=</text>
<text transform="translate(1505.3,681.7) scale(1.06,1)" font-size="31" stroke="#000" stroke-width="0.35">80</text>
<text transform="translate(1553.5,681.7) scale(1.03,1)" font-size="31" stroke="#000" stroke-width="0.35">MeV</text>
<circle cx="1233.7" cy="1034.6" r="1.4" fill="#000"/><circle cx="1278.8" cy="1034.6" r="1.4" fill="#000"/>
</svg></body></html>
